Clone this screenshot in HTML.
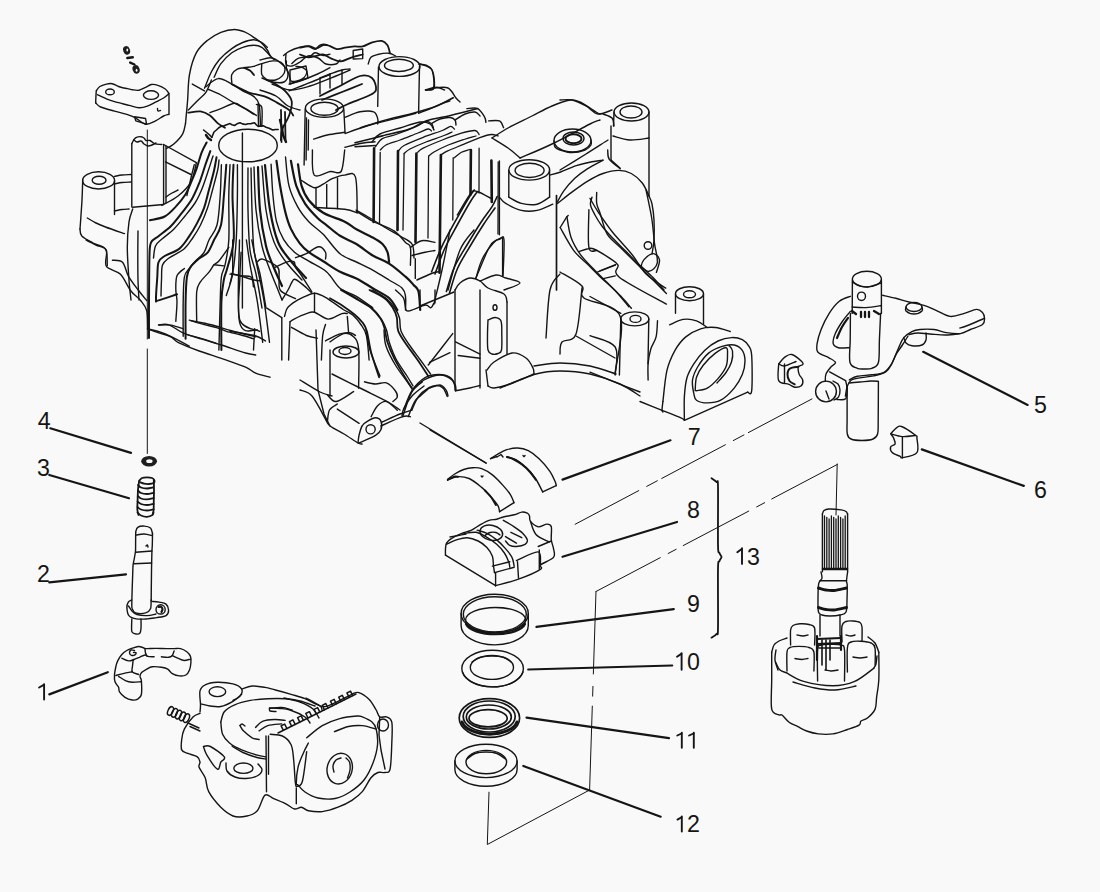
<!DOCTYPE html>
<html><head><meta charset="utf-8"><style>
html,body{margin:0;padding:0;background:#f9f9f9;width:1100px;height:892px;overflow:hidden}
svg{display:block}
.l path,.l ellipse,.l line,.l circle{fill:none;stroke:#151515;stroke-width:1.4;stroke-linecap:round;stroke-linejoin:round}
text{font-family:"Liberation Sans",sans-serif;font-size:23.2px;fill:#151515}
</style></head><body>
<svg width="1100" height="892" viewBox="0 0 1100 892">
<g class="l">
<!-- 01_labels.txt -->
<path d="M49.3 694.4 L107.8 672.2" style="stroke-width:2.2"/>
<path d="M49.3 582.4 L126 574.3" style="stroke-width:2.2"/>
<path d="M49.3 475 L129 498.3" style="stroke-width:2.2"/>
<path d="M50.3 428.3 L131 452.9" style="stroke-width:2.2"/>
<path d="M923.2 351.8 L1027.6 404.9" style="stroke-width:2.2"/>
<path d="M921.8 449.4 L1023.8 485.9" style="stroke-width:2.2"/>
<path d="M562.5 479.6 L670.5 440.3" style="stroke-width:2.2"/>
<path d="M562.5 556.8 L677 522" style="stroke-width:2.2"/>
<path d="M536.4 626.8 L673.8 609.2" style="stroke-width:2.2"/>
<path d="M528.2 669.5 L672.2 665.5" style="stroke-width:2.2"/>
<path d="M526.5 717.6 L669 738.2" style="stroke-width:2.2"/>
<path d="M523.3 766 L660.7 816.7" style="stroke-width:2.2"/>
<path d="M711.5 478.3 C712.3 478.9 715.4 480.6 716.5 482.0 C717.6 483.4 717.8 476.5 718.0 487.0 C718.2 497.5 717.8 534.0 718.0 545.0 C718.2 556.0 718.9 551.0 719.5 553.0 C720.1 555.0 721.5 555.7 721.5 557.0 C721.5 558.3 720.1 559.0 719.5 561.0 C718.9 563.0 718.2 557.8 718.0 569.0 C717.8 580.2 718.2 617.2 718.0 628.0 C717.8 638.8 717.6 632.4 716.5 634.0 C715.4 635.6 712.3 637.0 711.5 637.6" style="stroke-width:1.8"/>
<path d="M147.3 130 L147.3 339" style="stroke-width:1"/>
<path d="M147.3 349 L147.3 453.5" style="stroke-width:1"/>
<path d="M837.2 464 L836 515" style="stroke-width:1"/>
<path d="M589.6 790 L487.3 844.5 L489 792.2" style="stroke-width:1"/>
<path d="M596 591.5 L589.6 790" style="stroke-width:1;stroke-dasharray:82.5 12.4 9.8 10 120"/>
<path d="M837.2 464.5 L596 591.5" style="stroke-width:1;stroke-dasharray:74 8 9 9"/>
<path d="M812 398.9 L571.5 526.2" style="stroke-width:1;stroke-dasharray:72 5 12 9"/>
<!-- 01_labels_text.txt -->
<text x="37.1" y="582.0">2</text>
<text x="37.1" y="475.5">3</text>
<text x="37.7" y="428.6">4</text>
<text x="1034.0" y="413.0">5</text>
<text x="1034.0" y="497.5">6</text>
<text x="687.8" y="444.5">7</text>
<text x="687.0" y="517.5">8</text>
<text x="687.0" y="611.5">9</text>
<text x="687.0" y="669.7">0</text>
<text x="687.0" y="831.6">2</text>
<text x="747.0" y="564.5">3</text>
<path d="M39.1 687.5 L43.8 684.9" style="stroke-width:1.9"/>
<path d="M44.1 684.1 L44.1 699.5" style="stroke-width:1.9"/>
<path d="M677 656.8 L681.3 653.9" style="stroke-width:1.9"/>
<path d="M681.6 653.1 L681.6 669.7" style="stroke-width:1.9"/>
<path d="M677.3 735.5 L681.5 733.5" style="stroke-width:1.9"/>
<path d="M681.8 732.7 L681.8 747.7" style="stroke-width:1.9"/>
<path d="M689.1 735.5 L693.5 733.5" style="stroke-width:1.9"/>
<path d="M693.8 732.7 L693.8 747.7" style="stroke-width:1.9"/>
<path d="M677.5 819.6 L681.5 817.2" style="stroke-width:1.9"/>
<path d="M681.8 816.4 L681.8 831.6" style="stroke-width:1.9"/>
<path d="M737.3 552.3 L741.7 549" style="stroke-width:1.9"/>
<path d="M742 548.2 L742 563.9" style="stroke-width:1.9"/>
<!-- 02_lever.txt -->
<path d="M96.5 90.6 C97.0 89.9 98.1 87.6 99.8 86.5 C101.5 85.4 104.4 84.6 106.4 84.1 C108.5 83.6 110.1 83.3 112.1 83.7 C114.1 84.1 116.8 85.8 118.6 86.5 C120.4 87.2 121.2 87.5 122.7 87.8 C124.2 88.1 125.9 88.3 127.6 88.6 C129.2 88.9 130.7 89.5 132.6 89.8 C134.5 90.1 136.9 90.6 139.1 90.2 C141.3 89.8 143.5 88.4 145.6 87.4 C147.7 86.5 149.3 84.8 151.4 84.5 C153.5 84.2 155.6 84.5 157.9 85.3 C160.2 86.0 163.5 87.7 165.3 89.0 C167.1 90.3 168.1 92.4 168.6 93.1"/>
<path d="M96.3 90.6 C96.2 91.7 96.0 95.0 95.9 97.0 C95.8 99.0 95.7 101.9 95.7 102.9"/>
<path d="M95.7 102.9 C96.5 103.6 97.5 105.6 100.6 107.0 C103.7 108.4 110.1 109.9 114.5 111.1 C118.9 112.3 123.4 113.3 126.8 114.4 C130.2 115.5 131.9 116.0 135.0 117.6 C138.1 119.2 142.2 123.7 145.6 124.2 C149.0 124.8 152.5 122.3 155.5 120.9 C158.5 119.5 161.4 117.1 163.6 116.0 C165.8 114.9 167.8 114.7 168.6 114.4"/>
<path d="M169 93.5 L169 114.4"/>
<path d="M97.4 94.7 C98.9 95.4 103.7 97.7 106.4 98.8 C109.1 99.9 111.0 100.5 113.7 101.3 C116.4 102.1 120.1 103.0 122.7 103.7 C125.3 104.4 126.6 104.7 129.3 105.4 C132.0 106.1 136.1 107.7 139.1 107.8 C142.1 107.9 144.6 107.2 147.3 106.2 C150.0 105.2 152.8 103.5 155.5 102.1 C158.2 100.7 161.4 99.4 163.6 98.0 C165.8 96.6 167.8 94.6 168.6 93.9"/>
<ellipse cx="110" cy="91.9" rx="4.3" ry="2.9"/>
<ellipse cx="151" cy="95.1" rx="7.6" ry="4.3"/>
<path d="M134.6 116.8 L145.6 118.5 L146.5 124.2 L135.8 120.9Z"/>
<path d="M157.5 108.5 C157.6 108.9 157.5 110.7 158.0 111.0 C158.5 111.3 160.1 110.6 160.5 110.5"/>
<ellipse cx="126.6" cy="50.4" rx="3.4" ry="4.3" transform="rotate(-20 126.6 50.4)" style="fill:#1e1e1e;stroke:none"/>
<ellipse cx="136.1" cy="69.4" rx="3.5" ry="4.3" transform="rotate(-20 136.1 69.4)" style="fill:#1e1e1e;stroke:none"/>
<path d="M127.3 58 L132.8 57.3" style="stroke-width:2.4"/>
<path d="M130.2 62.6 L134.5 64.5" style="stroke-width:2.4"/>
<ellipse cx="127.3" cy="50" rx="0.9" ry="1.6" style="fill:#f9f9f9;stroke:none"/>
<ellipse cx="136.6" cy="70.3" rx="0.9" ry="1.5" style="fill:#f9f9f9;stroke:none"/>
<!-- 03_leftparts.txt -->
<ellipse cx="149.1" cy="461.3" rx="7.9" ry="5.3" style="fill:#1e1e1e;stroke:none"/>
<ellipse cx="149.4" cy="461.2" rx="3.2" ry="1.9" style="fill:#f9f9f9;stroke:none"/>
<path d="M139.0 482.0 C138.8 483.3 138.2 487.0 138.0 490.0 C137.8 493.0 137.7 496.7 137.6 500.0 C137.5 503.3 137.2 507.5 137.4 510.0 C137.6 512.5 138.3 514.2 138.5 515.0" style="stroke-width:1.8"/>
<path d="M153.8 480.0 C153.8 481.7 154.0 486.7 154.0 490.0 C154.0 493.3 153.9 496.7 153.8 500.0 C153.7 503.3 153.8 507.7 153.6 510.0 C153.4 512.3 152.9 513.3 152.8 514.0" style="stroke-width:1.8"/>
<path d="M139.0 481.0 C139.5 480.5 140.7 478.6 142.0 478.0 C143.3 477.4 145.3 477.3 147.0 477.3 C148.7 477.3 150.8 477.5 152.0 478.0 C153.2 478.5 154.2 479.7 154.5 480.5 C154.8 481.3 154.4 482.4 153.5 483.0 C152.6 483.6 150.6 483.9 149.0 484.0 C147.4 484.1 145.5 483.9 144.0 483.6 C142.5 483.3 140.7 482.4 140.0 482.2" style="stroke-width:1.8"/>
<path d="M138.0 485.0 C138.5 485.4 139.5 486.9 141.0 487.5 C142.5 488.1 145.0 488.5 147.0 488.5 C149.0 488.5 152.0 487.7 153.0 487.5" style="stroke-width:1.8"/>
<path d="M138.0 490.5 C138.5 490.9 139.5 492.4 141.0 493.0 C142.5 493.6 144.9 494.0 147.0 494.0 C149.1 494.0 152.5 493.0 153.6 492.8" style="stroke-width:1.8"/>
<path d="M137.8 496.0 C138.3 496.4 139.5 497.9 141.0 498.5 C142.5 499.1 144.9 499.4 147.0 499.4 C149.1 499.3 152.5 498.4 153.6 498.2" style="stroke-width:1.8"/>
<path d="M137.6 501.5 C138.2 501.9 139.4 503.4 141.0 504.0 C142.6 504.6 144.9 505.0 147.0 505.0 C149.1 505.0 152.5 504.0 153.6 503.8" style="stroke-width:1.8"/>
<path d="M137.5 507.0 C138.1 507.4 139.4 508.9 141.0 509.5 C142.6 510.1 144.9 510.5 147.0 510.5 C149.1 510.5 152.5 509.5 153.6 509.3" style="stroke-width:1.8"/>
<path d="M137.5 512.5 C138.1 513.0 139.4 514.8 141.0 515.5 C142.6 516.2 145.1 516.9 147.0 516.8 C148.9 516.7 151.4 515.7 152.5 515.0 C153.6 514.3 153.3 512.9 153.5 512.5" style="stroke-width:1.8"/>
<path d="M135.7 532.1 C136.0 531.3 136.2 528.4 137.7 527.4 C139.1 526.4 142.3 526.0 144.4 526.1 C146.5 526.2 149.2 526.9 150.5 528.1 C151.8 529.3 152.2 532.6 152.5 533.5"/>
<path d="M135.7 532.1 C135.7 534.2 135.6 541.7 135.6 545.0 C135.6 548.3 135.7 549.5 135.4 552.0 C135.1 554.5 134.4 557.7 134.0 560.0 C133.6 562.3 133.2 562.7 133.0 566.0 C132.8 569.3 132.7 575.2 132.5 580.0 C132.3 584.8 132.1 590.8 132.0 595.0 C131.9 599.2 131.8 602.7 131.8 605.0 C131.9 607.3 131.7 607.5 132.3 608.8 C133.0 610.1 133.4 612.2 135.7 612.9 C137.9 613.6 143.3 613.6 145.8 612.9 C148.3 612.2 149.6 610.9 150.5 608.8 C151.4 606.6 151.0 601.5 151.1 600.0"/>
<path d="M152.5 533.5 C152.5 535.4 152.4 541.9 152.3 545.0 C152.2 548.1 152.0 548.7 151.9 552.0 C151.8 555.3 151.7 560.3 151.6 565.0 C151.5 569.7 151.5 574.0 151.4 580.0 C151.3 586.0 151.2 597.3 151.2 600.8"/>
<path d="M136.5 535.0 C137.8 534.8 141.4 533.9 144.0 534.0 C146.6 534.1 150.7 535.2 152.0 535.5"/>
<path d="M135.6 552.3 L151.9 551"/>
<path d="M133.8 563.7 L151.6 563"/>
<path d="M146.0 546.0 C146.2 545.8 147.2 544.8 147.5 545.0 C147.8 545.2 147.9 546.7 148.0 547.0"/>
<path d="M131.6 600.0 C131.1 600.4 129.1 600.9 128.3 602.1 C127.5 603.4 126.8 605.2 126.9 607.5 C127.0 609.8 127.3 613.7 128.9 615.6 C130.5 617.5 133.3 618.4 136.3 618.9 C139.3 619.4 143.7 619.1 147.1 618.9 C150.5 618.7 153.3 618.1 156.5 617.6 C159.7 617.1 164.0 616.8 166.0 615.6 C168.0 614.4 168.6 612.1 168.6 610.2 C168.6 608.3 167.6 605.5 166.0 604.1 C164.4 602.8 161.6 602.6 159.2 602.1 C156.8 601.6 153.0 601.5 151.8 601.4"/>
<path d="M128.5 606.0 C129.1 606.8 130.6 609.6 132.0 611.0 C133.4 612.4 134.5 613.7 137.0 614.5 C139.5 615.3 143.8 615.7 147.0 615.6 C150.2 615.5 154.5 614.3 156.0 614.0"/>
<ellipse cx="160.6" cy="609.4" rx="4.6" ry="4.6"/>
<path d="M158.5 607.0 C158.9 607.0 160.1 606.5 160.8 606.8 C161.5 607.1 162.4 608.1 162.5 609.0 C162.6 609.9 161.7 611.5 161.5 612.0" style="stroke-width:2.2"/>
<path d="M131.8 619.0 C131.8 620.2 131.6 623.8 131.6 626.0 C131.6 628.2 131.3 630.7 132.0 632.0 C132.7 633.3 134.7 633.8 136.0 634.0 C137.3 634.2 139.2 634.0 140.0 633.0 C140.8 632.0 140.8 630.3 141.0 628.0 C141.2 625.7 141.0 620.5 141.0 619.0"/>
<path d="M121.8 654.5 C123.3 652.8 125.0 651.5 126.8 650.5 C128.6 649.5 130.3 648.9 132.3 648.2 C134.3 647.5 136.8 646.6 138.6 646.5 C140.4 646.4 142.0 647.4 143.2 647.7 C144.4 648.1 143.8 648.5 145.9 648.6 C148.0 648.7 152.4 648.4 155.9 648.4 C159.4 648.4 163.8 648.6 166.8 648.6 C169.8 648.6 171.8 648.6 174.1 648.6 C176.4 648.6 178.4 648.1 180.5 648.6 C182.6 649.1 185.1 650.5 186.8 651.8 C188.5 653.1 189.8 654.6 190.5 656.4 C191.2 658.2 191.1 660.4 190.9 662.7 C190.7 665.0 190.3 668.0 189.5 670.0 C188.7 672.0 187.6 674.0 185.9 675.0 C184.2 676.0 181.8 676.1 179.5 675.9 C177.2 675.7 174.3 674.7 172.3 673.6 C170.3 672.5 169.5 670.2 167.7 669.1 C165.9 668.0 164.0 667.7 161.4 667.3 C158.8 666.9 154.7 666.5 152.3 666.8 C149.9 667.1 148.6 668.1 146.8 669.1 C145.0 670.1 142.5 671.5 141.4 672.7 C140.3 673.9 140.0 675.0 140.0 676.4 C140.0 677.8 141.2 677.9 141.4 680.9 C141.6 683.9 142.0 691.5 141.4 694.5 C140.8 697.5 139.2 698.2 137.7 699.1 C136.2 700.0 134.4 700.3 132.3 700.0 C130.2 699.7 127.1 698.7 125.0 697.3 C122.9 695.9 120.6 693.5 119.5 691.8 C118.4 690.1 119.3 689.0 118.6 687.3 C117.8 685.6 115.7 683.9 115.0 681.8 C114.3 679.7 114.3 677.1 114.5 674.5 C114.7 671.9 115.4 668.7 115.9 666.4 C116.4 664.1 116.7 662.9 117.7 660.9 C118.7 658.9 120.3 656.2 121.8 654.5Z"/>
<path d="M121.8 658.2 C122.9 658.7 126.5 660.7 128.6 660.9 C130.7 661.1 132.3 660.1 134.1 659.5 C135.9 658.9 137.7 658.0 139.5 657.3 C141.3 656.5 143.6 655.1 145.0 655.0 C146.4 654.9 146.2 656.1 147.7 656.4 C149.2 656.7 153.0 656.7 154.1 656.8"/>
<path d="M161.4 656.8 C162.6 656.9 166.8 657.5 168.6 657.3 C170.4 657.1 171.4 656.6 172.3 655.5 C173.2 654.4 173.8 651.7 174.1 650.9"/>
<path d="M172.3 655.5 C173.2 656.0 175.7 657.4 177.7 658.2 C179.7 659.0 182.0 660.4 184.1 660.5 C186.2 660.6 189.4 659.3 190.5 659.1"/>
<path d="M133.2 659.5 C133.1 660.6 132.7 664.0 132.5 666.0 C132.3 668.0 131.3 670.4 132.3 671.8 C133.3 673.2 137.6 674.0 138.6 674.5"/>
<path d="M115.9 675.5 C117.1 675.2 120.5 674.2 123.2 673.6 C125.9 673.0 130.8 672.1 132.3 671.8"/>
<path d="M118.6 676.4 C119.8 677.1 123.6 679.9 125.9 680.9 C128.2 681.9 129.9 682.1 132.3 682.3 C134.7 682.4 139.1 681.9 140.5 681.8"/>
<path d="M134.5 650.5 C133.9 650.4 131.8 649.6 131.0 650.0 C130.2 650.4 129.4 652.1 129.5 653.0 C129.6 653.9 130.6 655.0 131.5 655.3 C132.4 655.6 134.2 655.3 135.0 654.8 C135.8 654.3 136.2 652.9 136.0 652.5 C135.8 652.1 133.9 652.5 133.5 652.5"/>
<path d="M145.0 649.0 C145.1 649.7 145.2 651.8 145.5 653.0 C145.8 654.2 146.8 655.5 147.0 656.0"/>
<!-- 04_pump.txt -->
<path d="M200.0 712.0 C200.1 710.8 200.5 708.3 200.5 704.8 C200.5 701.3 199.2 694.2 200.0 690.9 C200.8 687.6 202.3 686.2 205.2 684.8 C208.1 683.3 212.8 682.4 217.4 682.2 C222.0 682.1 228.9 682.8 233.0 683.9 C237.1 685.0 240.5 687.1 241.7 689.1 C242.9 691.1 241.4 694.2 240.0 696.1 C238.6 698.0 234.2 699.7 233.0 700.4"/>
<path d="M200.8 703.9 C202.3 704.2 206.7 705.6 210.0 706.0 C213.3 706.4 217.0 707.3 220.8 706.5 C224.6 705.7 229.5 703.3 233.0 701.3 C236.5 699.3 240.2 695.5 241.7 694.3"/>
<ellipse cx="217.4" cy="691.7" rx="8.3" ry="4.9"/>
<path d="M241.7 689.1 C243.4 688.6 248.1 686.3 252.0 686.0 C255.9 685.7 261.1 686.7 265.0 687.4 C268.9 688.1 271.0 688.9 275.4 690.0 C279.8 691.1 286.2 692.8 291.1 694.3 C296.0 695.8 300.7 697.0 305.0 698.7 C309.3 700.4 313.6 703.4 317.1 704.7 C320.6 706.0 322.3 707.1 325.8 706.5 C329.3 705.9 333.6 703.3 338.0 701.3 C342.4 699.3 348.4 695.8 351.9 694.3 C355.4 692.8 355.9 691.7 358.8 692.6 C361.7 693.5 366.3 696.6 369.2 699.5 C372.1 702.4 374.4 707.1 376.2 710.0 C377.9 712.9 378.0 715.8 379.7 716.9 C381.4 718.0 384.6 716.0 386.6 716.9 C388.6 717.8 390.9 717.8 391.8 722.1 C392.7 726.5 392.1 735.2 391.8 743.0 C391.5 750.8 391.2 764.1 390.1 769.0 C389.0 773.9 386.9 771.9 384.9 772.5 C382.9 773.1 380.2 771.6 377.9 772.5 C375.6 773.4 373.6 774.5 371.0 777.7 C368.4 780.9 365.5 787.8 362.3 791.6 C359.1 795.4 355.9 797.7 351.9 800.3 C347.8 802.9 342.9 805.3 338.0 807.2 C333.1 809.1 327.2 811.0 322.3 811.6 C317.4 812.2 311.9 811.4 308.4 810.7 C304.9 810.0 303.8 807.5 301.5 807.2 C299.2 806.9 297.1 809.6 294.5 809.0 C291.9 808.4 289.3 805.5 285.8 803.8 C282.3 802.1 277.2 800.0 273.7 798.6 C270.2 797.2 267.7 793.1 265.0 795.1 C262.3 797.1 260.3 807.3 257.3 810.8 C254.3 814.3 251.0 815.1 246.9 816.0 C242.8 816.9 237.3 817.5 233.0 816.0 C228.7 814.5 224.9 811.3 220.8 807.3 C216.8 803.2 211.3 796.6 208.7 791.7 C206.1 786.8 206.8 781.9 205.2 777.8 C203.6 773.7 200.0 769.9 199.1 767.3 C198.2 764.7 200.3 763.8 200.0 762.1 C199.7 760.4 199.4 758.4 197.4 756.9 C195.4 755.4 190.4 754.6 187.8 753.4 C185.2 752.2 182.7 752.2 181.7 749.9 C180.7 747.6 181.3 743.0 181.7 739.5 C182.1 736.0 182.4 732.9 184.3 729.1 C186.2 725.3 190.4 719.5 193.0 716.9 C195.6 714.3 198.8 714.0 200.0 713.4"/>
<path d="M220.8 722.1 C221.4 720.4 222.0 714.6 224.3 711.7 C226.6 708.8 230.3 706.7 234.7 704.8 C239.0 702.9 244.9 701.4 250.4 700.4 C255.9 699.4 262.0 699.0 267.8 698.7 C273.6 698.4 279.7 698.3 285.1 698.7 C290.5 699.1 295.0 699.8 300.0 701.0 C305.0 702.2 312.5 705.2 315.0 706.0"/>
<path d="M220.8 722.1 C221.1 724.1 221.2 730.8 222.6 734.3 C224.0 737.8 226.3 740.4 229.5 743.0 C232.7 745.6 237.1 747.9 241.7 749.9 C246.3 751.9 253.2 754.0 257.3 755.2 C261.4 756.4 264.6 756.6 266.0 756.9"/>
<path d="M232.0 746.0 C233.8 747.1 238.8 750.6 243.0 752.5 C247.2 754.4 253.2 756.4 257.0 757.5 C260.8 758.6 264.5 758.8 266.0 759.0"/>
<path d="M240.0 725.6 C240.6 726.5 241.4 728.8 243.4 730.8 C245.4 732.8 249.5 736.3 252.1 737.8 C254.7 739.2 257.9 739.2 259.1 739.5"/>
<path d="M240.0 725.6 C240.3 725.3 241.2 723.9 242.0 724.0 C242.8 724.1 244.5 725.7 245.0 726.0"/>
<path d="M255.6 727.4 C256.8 726.4 259.3 722.6 262.5 721.3 C265.7 720.0 270.9 719.6 274.7 719.5 C278.5 719.4 283.4 720.2 285.1 720.4"/>
<path d="M259.1 730.8 C260.6 729.9 264.0 726.8 267.8 725.6 C271.6 724.5 279.4 724.2 281.7 723.9"/>
<path d="M269.5 708.2 C271.5 708.1 277.9 707.1 281.7 707.4 C285.4 707.7 290.3 709.6 292.0 710.0"/>
<path d="M269.5 708.2 C269.6 708.7 268.9 710.5 270.0 711.0 C271.1 711.5 275.0 711.4 276.0 711.5"/>
<ellipse cx="243.4" cy="768.2" rx="9.6" ry="5.2"/>
<path d="M226.0 763.0 C226.2 764.3 225.5 768.7 227.0 771.0 C228.5 773.3 231.8 775.8 235.0 777.0 C238.2 778.2 242.3 778.7 246.0 778.5 C249.7 778.3 254.3 777.4 257.0 776.0 C259.7 774.6 261.8 772.0 262.0 770.0 C262.2 768.0 258.7 765.0 258.0 764.0"/>
<path d="M203.4 746.5 C204.0 748.0 204.6 751.4 206.9 755.2 C209.2 759.0 215.1 768.0 217.4 769.1 C219.7 770.2 219.7 764.1 220.8 762.1 C222.0 760.1 226.0 759.5 224.3 756.9 C222.6 754.3 213.9 748.2 210.4 746.5 C206.9 744.8 204.6 746.5 203.4 746.5"/>
<path d="M266 736 L266.5 791.7"/>
<ellipse cx="170.5" cy="711" rx="2.5" ry="4.6" transform="rotate(25 170.5 711)" style="stroke-width:1.5"/>
<ellipse cx="174.5" cy="712.8" rx="2.5" ry="4.6" transform="rotate(25 174.5 712.8)" style="stroke-width:1.5"/>
<ellipse cx="178.5" cy="714.6" rx="2.5" ry="4.6" transform="rotate(25 178.5 714.6)" style="stroke-width:1.5"/>
<ellipse cx="182.5" cy="716.4" rx="2.5" ry="4.6" transform="rotate(25 182.5 716.4)" style="stroke-width:1.5"/>
<ellipse cx="186.5" cy="718.2" rx="2.5" ry="4.6" transform="rotate(25 186.5 718.2)" style="stroke-width:1.5"/>
<path d="M188 723 L199 728"/>
<path d="M190 726.5 L200 731"/>
<path d="M306.7 737.8 C309.3 735.8 316.8 728.8 322.3 725.6 C327.8 722.4 333.9 720.2 339.7 718.6 C345.5 717.0 353.3 716.3 357.1 716.0 C360.9 715.7 359.8 715.9 362.3 716.9 C364.8 717.9 369.7 720.0 372.0 722.0 C374.3 724.0 375.3 725.2 376.2 729.0 C377.1 732.8 378.0 739.3 377.5 745.0 C377.0 750.7 375.2 757.2 373.0 763.0 C370.8 768.8 367.8 775.2 364.0 780.0 C360.2 784.8 354.8 788.9 350.0 792.0 C345.2 795.1 340.3 797.5 335.0 798.5 C329.7 799.5 323.0 799.1 318.0 798.0 C313.0 796.9 308.3 794.2 305.0 792.0 C301.7 789.8 299.4 786.5 298.0 785.0 C296.6 783.5 296.3 785.9 296.3 782.9 C296.3 779.9 296.9 772.2 298.0 767.3 C299.1 762.4 301.5 757.4 303.2 753.4 C304.9 749.4 307.5 744.7 308.4 743.0"/>
<path d="M334.5 731.7 C336.8 730.8 343.8 727.5 348.4 726.5 C353.0 725.5 357.7 725.2 362.3 725.6 C366.9 726.0 373.9 728.5 376.2 729.1"/>
<path d="M270.2 734.3 C272.2 734.6 278.9 734.3 282.4 736.0 C285.9 737.7 289.2 740.7 291.1 744.7 C293.0 748.8 293.0 753.9 293.7 760.3 C294.4 766.7 294.8 778.5 295.4 782.9 C296.0 787.2 295.9 786.7 297.1 786.4 C298.3 786.1 300.8 787.0 302.4 781.2 C304.0 775.4 306.0 756.6 306.7 751.7"/>
<path d="M268.5 736 L268.5 774.2"/>
<path d="M296.3 788 L296.3 803.8"/>
<ellipse cx="339.7" cy="768.6" rx="12.5" ry="15.5" transform="rotate(15 339.7 768.6)"/>
<path d="M346.0 758.0 C346.6 758.7 348.8 760.0 349.5 762.0 C350.2 764.0 350.3 767.3 350.0 770.0 C349.7 772.7 347.9 776.7 347.5 778.0"/>
<path d="M334.0 772.0 C333.8 771.0 332.7 768.0 333.0 766.0 C333.3 764.0 334.7 761.3 336.0 760.0 C337.3 758.7 340.2 758.3 341.0 758.0"/>
<ellipse cx="383" cy="725" rx="5.5" ry="6"/>
<path d="M379.7 716.9 L379 735 L381 750 L385 769"/>
<path d="M283.4 730.3 L281.1 725.8 L284.7 724.1 L286.9 728.5" style="stroke-width:1.5"/>
<path d="M291.6 726.2 L289.4 721.7 L292.9 719.9 L295.2 724.4" style="stroke-width:1.5"/>
<path d="M299.8 722.1 L297.6 717.6 L301.2 715.8 L303.4 720.3" style="stroke-width:1.5"/>
<path d="M308 718 L305.8 713.5 L309.4 711.7 L311.6 716.2" style="stroke-width:1.5"/>
<path d="M316.3 713.9 L314 709.4 L317.6 707.6 L319.8 712.1" style="stroke-width:1.5"/>
<path d="M324.5 709.8 L322.3 705.3 L325.8 703.5 L328.1 708" style="stroke-width:1.5"/>
<path d="M332.7 705.6 L330.5 701.2 L334.1 699.4 L336.3 703.9" style="stroke-width:1.5"/>
<path d="M340.9 701.5 L338.7 697.1 L342.3 695.3 L344.5 699.7" style="stroke-width:1.5"/>
<path d="M349.2 697.4 L346.9 692.9 L350.5 691.2 L352.7 695.6" style="stroke-width:1.5"/>
<path d="M278 733 L356 694" style="stroke-width:1.5"/>
<path d="M270.0 708.0 C271.7 708.1 276.7 708.2 280.0 708.5 C283.3 708.8 285.8 708.6 290.0 710.0 C294.2 711.4 301.7 714.8 305.0 717.0 C308.3 719.2 309.2 722.0 310.0 723.0"/>
<path d="M284.0 698.0 C286.7 698.7 295.2 700.2 300.0 702.0 C304.8 703.8 309.8 706.3 313.0 709.0 C316.2 711.7 318.0 716.5 319.0 718.0"/>
<path d="M306.0 698.0 C308.3 699.3 317.3 704.0 320.0 706.0 C322.7 708.0 321.7 709.3 322.0 710.0"/>
<!-- 05_bearings.txt -->
<path d="M447.6 479.4 C448.8 478.5 452.0 475.6 454.7 474.0 C457.4 472.4 460.7 470.6 463.7 469.5 C466.7 468.4 469.7 467.8 472.7 467.7 C475.7 467.6 478.4 467.4 481.7 468.6 C485.0 469.8 488.8 472.1 492.4 474.9 C496.0 477.7 500.2 482.3 503.2 485.6 C506.2 488.9 508.6 491.8 510.4 494.6 C512.2 497.5 513.4 501.4 514.0 502.7"/>
<path d="M447.6 480.3 C449.1 479.7 452.9 477.0 456.5 476.7 C460.1 476.4 464.9 476.7 469.1 478.5 C473.3 480.3 478.1 484.4 481.7 487.4 C485.3 490.4 487.9 493.4 490.6 496.4 C493.3 499.4 496.3 502.8 497.8 505.4 C499.3 507.9 499.3 510.6 499.6 511.7"/>
<path d="M514 502.7 L499.6 511.7"/>
<path d="M447.6 479.4 L447.6 480.3"/>
<path d="M485.0 490.5 C486.0 491.6 489.2 494.6 491.0 497.0 C492.8 499.4 495.2 503.7 496.0 505.0" style="stroke-width:2"/>
<path d="M450.0 478.5 C450.8 478.2 453.7 476.8 455.0 476.5 C456.3 476.2 457.5 476.8 458.0 476.8" style="stroke-width:2"/>
<path d="M481.2 476.0 C481.3 476.2 481.7 477.0 482.0 477.0 C482.3 477.0 482.8 476.2 483.0 476.0"/>
<path d="M490.6 458.7 C491.8 457.9 495.1 455.7 497.8 454.2 C500.5 452.7 503.5 450.7 506.8 449.7 C510.1 448.7 514.0 447.9 517.6 448.0 C521.2 448.1 524.7 448.8 528.3 450.6 C531.9 452.4 535.5 455.2 539.1 458.7 C542.7 462.1 547.2 467.4 549.9 471.3 C552.6 475.2 554.2 479.6 555.3 482.0 C556.3 484.4 556.1 485.0 556.2 485.6"/>
<path d="M506.8 456.9 C508.3 457.3 512.5 457.8 515.8 459.6 C519.1 461.4 523.2 464.6 526.5 467.7 C529.8 470.8 532.8 474.5 535.5 478.5 C538.2 482.5 541.5 489.7 542.7 491.9"/>
<path d="M556.2 485.6 L542.7 491.9"/>
<path d="M490.6 458.7 L494 457.5 L497 456.5"/>
<path d="M507.0 457.0 C508.2 457.4 511.5 458.2 514.0 459.5 C516.5 460.8 519.3 462.4 522.0 464.5 C524.7 466.6 527.7 469.4 530.0 472.0 C532.3 474.6 535.0 478.7 536.0 480.0" style="stroke-width:2"/>
<path d="M523.0 455.5 C523.2 455.7 523.7 456.7 524.0 456.7 C524.3 456.7 524.8 455.7 525.0 455.5"/>
<path d="M497 457 L501 454.5 L503 457"/>
<path d="M430 429.8 L486.2 463.2"/>
<path d="M445.5 555.2 C445.5 554.2 445.3 551.0 445.5 549.0 C445.7 547.0 445.6 544.9 446.5 543.2 C447.4 541.5 448.3 540.4 450.9 538.8 C453.4 537.2 458.4 534.8 461.8 533.4 C465.2 532.0 468.5 531.6 471.6 530.1 C474.7 528.6 477.5 526.2 480.4 524.6 C483.3 523.0 486.4 521.2 489.1 520.3 C491.8 519.4 494.3 519.8 496.7 519.2 C499.1 518.7 500.4 517.7 503.3 517.0 C506.2 516.3 511.1 515.6 514.2 514.8 C517.3 514.0 519.6 512.4 521.8 512.1 C524.0 511.8 526.0 512.6 527.3 513.2 C528.6 513.8 529.0 514.5 529.5 515.9 C530.0 517.3 529.0 519.6 530.5 521.4 C532.0 523.2 535.5 526.3 538.2 526.8 C540.9 527.2 544.7 524.1 546.9 524.1 C549.1 524.1 550.6 524.2 551.3 526.8 C552.0 529.4 550.9 536.3 551.3 539.9 C551.7 543.5 553.1 545.7 553.5 548.6 C553.9 551.5 555.7 554.7 553.5 557.4 C551.3 560.1 542.6 563.0 540.4 565.0 C538.2 567.0 544.0 567.0 540.4 569.4 C536.8 571.8 526.0 576.5 518.5 579.2 C511.0 581.9 499.4 584.6 495.6 585.7"/>
<path d="M495.6 585.7 L445.5 555.2"/>
<path d="M446.5 544.3 C448.1 543.6 452.9 541.0 456.4 539.9 C459.9 538.8 463.7 537.5 467.3 537.7 C470.9 537.9 474.9 539.4 478.2 541.0 C481.5 542.6 484.5 545.0 486.9 547.5 C489.3 550.0 491.3 553.2 492.4 556.3 C493.5 559.4 493.1 563.4 493.5 566.1 C493.9 568.8 494.3 571.5 494.5 572.6"/>
<path d="M464.0 533.4 C466.0 533.2 472.4 531.8 476.0 532.3 C479.6 532.8 482.4 534.6 485.8 536.6 C489.2 538.6 493.6 541.6 496.7 544.3 C499.8 547.0 502.4 550.1 504.4 553.0 C506.4 555.9 507.8 559.3 508.7 561.7 C509.6 564.1 509.6 566.3 509.8 567.2"/>
<path d="M477.1 530.1 C478.7 530.6 483.6 531.8 486.9 533.4 C490.2 535.0 493.6 537.4 496.7 539.9 C499.8 542.4 502.9 545.7 505.5 548.6 C508.1 551.5 510.6 554.5 512.0 557.4 C513.5 560.3 513.8 564.6 514.2 566.1"/>
<path d="M450.0 537.0 C451.3 536.8 455.3 536.0 458.0 535.5 C460.7 535.0 464.7 534.2 466.0 534.0"/>
<path d="M495.6 572.6 L495.6 585.7"/>
<path d="M492.4 566.1 L509.8 561.7"/>
<path d="M494.5 572.6 L514.2 567.2"/>
<ellipse cx="491.3" cy="532.8" rx="11.5" ry="7.5" transform="rotate(12 491.3 532.8)"/>
<path d="M485.0 535.5 C485.8 535.0 488.2 533.0 490.0 532.5 C491.8 532.0 494.3 532.1 496.0 532.5 C497.7 532.9 499.3 534.6 500.0 535.0"/>
<path d="M503.3 520.3 C505.1 521.4 510.9 524.6 514.2 526.8 C517.5 529.0 520.7 531.2 522.9 533.4 C525.1 535.6 526.9 538.1 527.3 539.9 C527.7 541.7 526.9 543.2 525.1 544.3 C523.3 545.4 518.9 546.3 516.4 546.5 C513.9 546.7 511.6 546.3 509.8 545.4 C508.0 544.5 506.2 541.7 505.5 541.0"/>
<path d="M516.4 560.6 C520.0 559.1 534.2 551.2 538.2 551.9 C542.2 552.6 540.0 562.8 540.4 565.0"/>
<path d="M517.5 561.7 L518.5 578.1"/>
<path d="M538.2 546.5 L551.3 541"/>
<path d="M539.3 550 L539.3 569"/>
<path d="M530.5 521.4 C531.4 523.6 532.9 531.0 536.0 534.5 C539.1 538.0 546.9 540.8 549.1 542.1"/>
<path d="M505.5 536.6 L516.4 543.2"/>
<path d="M510.9 532.3 L521.8 537.7"/>
<!-- 06_rings.txt -->
<ellipse cx="494.7" cy="613.6" rx="33.6" ry="19.4"/>
<ellipse cx="494.8" cy="614.3" rx="31.5" ry="17.6"/>
<ellipse cx="495.6" cy="620" rx="30" ry="12.5"/>
<path d="M461.1 613.6 L461.1 625.5 A33.6 19.4 0 0 0 528.3 625.5 L528.3 613.6"/>
<path d="M466 624 A30 12.5 0 0 0 525 624" style="stroke-width:2.2"/>
<ellipse cx="492.6" cy="668.6" rx="30.8" ry="18.3"/>
<ellipse cx="491.9" cy="667.4" rx="21.6" ry="12"/>
<path d="M462.5 672 A30.8 18.3 0 0 0 523 672" />
<path d="M472.0 662.0 C473.3 661.2 476.7 658.5 480.0 657.5 C483.3 656.5 488.0 656.0 492.0 656.0 C496.0 656.0 500.8 656.5 504.0 657.5 C507.2 658.5 509.8 661.2 511.0 662.0"/>
<ellipse cx="489.4" cy="718" rx="30.2" ry="19.4" style="stroke-width:1.7"/>
<ellipse cx="489.2" cy="716.5" rx="26" ry="15.5" style="stroke-width:1.7"/>
<ellipse cx="488.8" cy="717" rx="22.5" ry="12" style="stroke-width:1.7"/>
<ellipse cx="488.1" cy="718.3" rx="19.1" ry="8.6" style="stroke-width:1.7"/>
<path d="M462 722 A28 15 0 0 0 517 722" style="stroke-width:3"/>
<ellipse cx="486" cy="760.9" rx="31.1" ry="16.7"/>
<path d="M454.9 760.9 L454.9 769.5 A31.1 16.7 0 0 0 517.1 769.5 L517.1 760.9"/>
<ellipse cx="486.3" cy="762.1" rx="20.3" ry="11.7"/>
<path d="M467.0 759.0 C468.3 758.1 471.8 754.7 475.0 753.5 C478.2 752.3 482.3 752.0 486.0 752.0 C489.7 752.0 493.8 752.3 497.0 753.5 C500.2 754.7 504.1 758.1 505.5 759.0"/>
<!-- 07_cyl.txt -->
<path d="M822.4 514.0 C822.7 513.4 823.0 511.3 824.0 510.5 C825.0 509.7 825.8 509.1 828.7 509.0 C831.6 508.9 838.4 509.5 841.3 509.9 C844.2 510.3 845.0 510.8 846.0 511.5 C847.0 512.2 847.3 513.6 847.6 514.0"/>
<path d="M822.4 514 L822.4 571.8"/>
<path d="M847.6 514 L847.6 571.8"/>
<path d="M824.5 516 L824.5 569" style="stroke-width:1.3"/>
<path d="M826.8 517.5 L826.8 569" style="stroke-width:1.3"/>
<path d="M829.1 519 L829.1 569" style="stroke-width:1.3"/>
<path d="M831.4 516 L831.4 569" style="stroke-width:1.3"/>
<path d="M833.7 517.5 L833.7 569" style="stroke-width:1.3"/>
<path d="M836 519 L836 569" style="stroke-width:1.3"/>
<path d="M838.3 516 L838.3 569" style="stroke-width:1.3"/>
<path d="M840.6 517.5 L840.6 569" style="stroke-width:1.3"/>
<path d="M842.9 519 L842.9 569" style="stroke-width:1.3"/>
<path d="M845.2 516 L845.2 569" style="stroke-width:1.3"/>
<path d="M823 569 L847 569" style="stroke-width:2.5"/>
<path d="M821.0 572.0 C821.2 573.0 822.2 576.5 822.0 578.0 C821.8 579.5 820.6 579.8 820.0 581.0 C819.4 582.2 818.8 581.8 818.5 585.0 C818.2 588.2 818.0 595.5 818.0 600.0 C818.0 604.5 817.8 609.5 818.5 612.0 C819.2 614.5 820.1 614.3 822.0 615.0 C823.9 615.7 827.0 616.0 830.0 616.0 C833.0 616.0 837.3 615.7 840.0 615.0 C842.7 614.3 844.8 614.5 846.0 612.0 C847.2 609.5 846.8 604.5 847.0 600.0 C847.2 595.5 847.3 588.2 847.2 585.0 C847.1 581.8 846.4 583.2 846.5 581.0 C846.6 578.8 847.4 573.5 847.6 572.0"/>
<path d="M820 580.8 L846.5 580.8"/>
<path d="M818.5 588.0 C819.8 588.3 823.4 589.6 826.0 590.0 C828.6 590.4 830.6 590.8 834.0 590.5 C837.4 590.2 844.4 588.4 846.5 588.0" style="stroke-width:3"/>
<path d="M818.5 607.5 C819.8 607.8 823.4 609.1 826.0 609.5 C828.6 609.9 830.6 610.3 834.0 610.0 C837.4 609.7 844.4 607.9 846.5 607.5" style="stroke-width:3"/>
<path d="M820 615 L820 636"/>
<path d="M840 615 L840 636"/>
<path d="M817 636 L817 660" style="stroke-width:2.2"/>
<path d="M841 636 L841 650" style="stroke-width:2.2"/>
<path d="M817 639 L841 638" style="stroke-width:2.2"/>
<path d="M817 644 L841 643" style="stroke-width:2.2"/>
<path d="M819 648 L840 648" style="stroke-width:1.6"/>
<path d="M822 640 L822 665" style="stroke-width:1.6"/>
<path d="M826 640 L826 670" style="stroke-width:1.6"/>
<path d="M830 640 L830 660" style="stroke-width:1.6"/>
<path d="M771.7 652.3 C771.7 656.9 771.7 670.5 771.7 680.0 C771.7 689.5 770.5 703.3 771.7 709.1 C772.9 714.9 777.2 713.9 778.9 714.9 C780.6 715.9 780.3 713.8 782.0 715.0 C783.7 716.2 786.5 720.3 789.1 722.2 C791.8 724.1 795.0 725.1 797.9 726.6 C800.8 728.1 803.2 729.8 806.6 731.0 C810.0 732.2 813.9 733.4 818.3 733.9 C822.7 734.4 828.0 734.6 832.9 733.9 C837.8 733.2 843.0 731.0 847.4 729.5 C851.8 728.0 856.8 726.5 859.1 725.1 C861.4 723.7 859.5 722.2 861.0 721.0 C862.5 719.8 865.4 719.8 867.8 717.8 C870.1 715.8 873.6 712.5 875.1 709.1 C876.6 705.7 876.0 702.2 876.6 697.4 C877.2 692.5 878.4 687.5 878.8 680.0 C879.2 672.5 878.8 656.9 878.8 652.3"/>
<path d="M771.7 652.3 C772.1 651.1 772.8 646.9 774.0 645.0 C775.2 643.1 776.8 642.2 779.0 641.0 C781.2 639.8 785.7 638.5 787.0 638.0"/>
<path d="M868.0 637.0 C869.2 638.0 873.2 640.5 875.0 643.0 C876.8 645.5 878.2 650.8 878.8 652.3"/>
<path d="M776.0 650.0 C775.8 651.7 774.7 656.7 775.0 660.0 C775.3 663.3 777.5 668.3 778.0 670.0"/>
<path d="M786.2 672.7 C789.1 674.2 795.9 679.2 803.7 681.4 C811.5 683.6 824.4 685.8 832.9 685.8 C841.4 685.8 847.9 684.3 854.7 681.4 C861.5 678.5 870.5 670.5 873.7 668.3"/>
<path d="M775.5 662.0 C776.2 663.3 778.2 668.2 780.0 670.0 C781.8 671.8 785.2 672.2 786.2 672.7"/>
<path d="M873.7 668.3 C874.1 667.6 875.5 666.0 876.0 664.0 C876.5 662.0 876.8 657.3 877.0 656.0"/>
<path d="M793.0 682.0 C796.7 683.0 808.0 686.7 815.0 688.0 C822.0 689.3 828.2 690.3 835.0 690.0 C841.8 689.7 852.5 686.7 856.0 686.0"/>
<path d="M790.6 645.0 C790.6 642.5 790.2 633.2 790.6 630.0 C791.0 626.8 791.4 626.5 793.0 625.5 C794.6 624.5 797.3 624.0 800.0 623.8 C802.7 623.6 806.6 623.8 809.0 624.5 C811.4 625.2 813.7 624.6 814.6 628.0 C815.5 631.4 814.6 642.2 814.6 645.0"/>
<path d="M797.0 635.0 C798.0 635.2 801.2 636.0 803.0 636.0 C804.8 636.0 807.2 635.2 808.0 635.0"/>
<path d="M787.0 671.0 C787.0 667.8 786.5 655.9 787.0 652.0 C787.5 648.1 788.0 648.4 790.0 647.5 C792.0 646.6 795.8 646.4 799.0 646.4 C802.2 646.4 806.5 646.6 809.0 647.5 C811.5 648.4 813.1 648.1 813.9 652.0 C814.7 655.9 813.9 667.8 813.9 671.0"/>
<path d="M795.0 658.5 C796.2 658.7 799.8 659.5 802.0 659.5 C804.2 659.5 807.0 658.7 808.0 658.5"/>
<path d="M817.6 681.0 C817.6 675.8 817.0 656.0 817.6 650.0 C818.2 644.0 818.8 646.0 821.0 645.0 C823.2 644.0 827.7 644.2 831.0 644.2 C834.3 644.2 838.8 644.0 841.0 645.0 C843.2 646.0 843.9 644.0 844.5 650.0 C845.1 656.0 844.5 675.8 844.5 681.0"/>
<path d="M825.0 670.0 C826.0 670.2 828.8 671.0 831.0 671.0 C833.2 671.0 836.8 670.2 838.0 670.0"/>
<path d="M847.4 672.0 C847.4 668.0 846.8 653.0 847.4 648.0 C848.0 643.0 848.7 643.1 851.0 642.0 C853.3 640.9 857.7 641.1 861.0 641.3 C864.3 641.5 868.7 641.9 871.0 643.0 C873.3 644.1 874.3 644.3 875.0 648.0 C875.7 651.7 875.1 662.2 875.1 665.0"/>
<path d="M853.0 657.0 C854.2 657.2 857.7 658.0 860.0 658.0 C862.3 658.0 865.8 657.2 867.0 657.0"/>
<path d="M842.0 642.0 C842.0 639.3 841.3 629.4 842.0 626.0 C842.7 622.6 844.2 622.3 846.0 621.5 C847.8 620.7 850.7 620.8 853.0 621.0 C855.3 621.2 858.5 621.5 860.0 622.5 C861.5 623.5 861.7 623.9 862.0 627.0 C862.3 630.1 862.0 638.7 862.0 641.0"/>
<path d="M846.0 635.0 C846.8 635.2 849.5 636.0 851.0 636.0 C852.5 636.0 854.3 635.2 855.0 635.0"/>
<!-- 08_fork.txt -->
<ellipse cx="866.9" cy="279.1" rx="14.5" ry="7.8"/>
<path d="M852.4 280.0 C852.4 283.3 852.3 294.4 852.3 300.0 C852.3 305.6 852.2 311.2 852.2 313.4"/>
<path d="M881.4 280.0 C881.4 283.3 881.4 294.4 881.4 300.0 C881.4 305.6 881.4 311.2 881.4 313.4"/>
<path d="M852.4 282.0 C853.7 282.7 857.4 285.2 860.0 286.0 C862.6 286.8 864.4 287.5 868.0 287.0 C871.6 286.5 879.2 283.7 881.4 283.0"/>
<ellipse cx="861.5" cy="296.3" rx="4" ry="4.2"/>
<path d="M852.2 307.0 C854.5 307.1 861.1 307.9 866.0 307.6 C870.9 307.4 878.8 305.9 881.4 305.5"/>
<path d="M852 311 L856 314" style="stroke-width:2.3"/>
<path d="M861 312 L861 317" style="stroke-width:2.3"/>
<path d="M865 312 L865 317" style="stroke-width:2.3"/>
<path d="M869 312 L869 317" style="stroke-width:2.3"/>
<path d="M874 311 L879 314" style="stroke-width:2.3"/>
<path d="M850.4 313.4 C850.4 317.8 850.3 331.8 850.2 340.0 C850.1 348.2 848.8 357.8 850.0 362.5 C851.2 367.2 855.0 367.2 857.3 368.3 C859.6 369.4 861.6 369.0 864.0 369.0 C866.4 369.0 869.4 369.4 871.8 368.3 C874.2 367.2 877.1 367.2 878.4 362.5 C879.7 357.8 879.0 348.2 879.4 340.0 C879.8 331.8 880.4 317.8 880.6 313.4"/>
<path d="M850.4 296.3 C848.5 297.1 842.8 298.5 839.3 301.3 C835.8 304.1 832.2 308.7 829.2 313.4 C826.2 318.1 823.1 324.4 821.1 329.5 C819.1 334.6 817.6 339.9 817.1 343.7 C816.6 347.5 816.0 349.9 818.0 352.3 C820.0 354.7 826.1 356.1 829.0 357.8 C831.9 359.5 835.1 361.0 835.5 362.5 C835.9 364.0 832.7 364.9 831.1 366.8 C829.5 368.7 827.0 371.7 826.0 374.1 C825.0 376.5 825.4 380.2 825.3 381.4"/>
<path d="M850.4 311.4 C849.0 313.1 844.8 317.8 842.3 321.5 C839.8 325.2 836.8 329.9 835.3 333.6 C833.8 337.3 832.7 341.4 833.2 343.7 C833.7 346.0 835.6 347.0 838.3 347.7 C841.0 348.4 847.5 347.7 849.4 347.7"/>
<path d="M848.0 318.0 C847.0 319.5 843.8 323.7 842.0 327.0 C840.2 330.3 837.8 336.2 837.0 338.0" style="stroke-width:2.2"/>
<path d="M882.7 295.3 C884.9 295.8 891.3 297.1 895.8 298.3 C900.3 299.5 905.2 301.1 909.9 302.3 C914.6 303.5 919.6 304.0 924.0 305.3 C928.4 306.6 931.7 308.5 936.1 310.4 C940.5 312.2 945.5 315.9 950.2 316.4 C954.9 316.9 959.9 314.6 964.3 313.4 C968.7 312.2 973.4 309.6 976.4 309.4 C979.4 309.2 981.1 310.9 982.5 312.4 C983.9 313.9 984.5 316.4 984.5 318.4 C984.5 320.4 984.9 322.6 982.5 324.5 C980.1 326.4 974.1 328.0 970.4 329.5 C966.7 331.0 964.3 333.1 960.3 333.6 C956.3 334.1 950.6 333.3 946.2 332.6 C941.8 331.9 938.5 330.0 934.1 329.5 C929.7 329.0 923.7 329.1 920.0 329.5 C916.3 329.9 914.6 330.2 911.9 331.6 C909.2 333.0 906.1 334.6 903.8 337.6 C901.4 340.6 899.8 345.3 897.8 349.7 C895.8 354.1 893.7 360.1 891.7 363.8 C889.7 367.5 888.7 369.9 885.7 371.9 C882.7 373.9 878.0 374.9 873.6 375.9 C869.2 376.9 863.2 377.2 859.5 377.9 C855.8 378.6 853.4 378.6 851.4 380.0 C849.4 381.4 848.4 383.3 847.4 386.0 C846.4 388.7 845.7 394.4 845.4 396.1"/>
<path d="M984.5 318.4 C983.1 319.0 979.2 320.6 976.0 322.0 C972.8 323.4 967.7 325.5 965.0 326.5 C962.3 327.5 960.8 327.8 960.0 328.0"/>
<path d="M909.0 334.5 C910.5 334.2 914.5 333.1 918.0 333.0 C921.5 332.9 925.3 333.7 930.0 334.0 C934.7 334.3 941.0 335.1 946.0 335.0 C951.0 334.9 957.7 333.8 960.0 333.6"/>
<path d="M849.3 379.9 C850.6 379.3 853.5 377.1 857.3 376.3 C861.0 375.5 867.4 375.4 871.8 374.8 C876.2 374.2 880.4 374.2 883.5 372.6 C886.6 371.0 888.5 368.5 890.7 365.4 C892.9 362.2 894.5 357.1 896.5 353.7 C898.5 350.3 900.5 347.9 902.4 345.0 C904.3 342.1 907.1 337.5 908.0 336.0"/>
<ellipse cx="914" cy="307" rx="8" ry="4.5"/>
<path d="M906.0 307.0 C906.0 307.7 904.7 309.8 906.0 311.0 C907.3 312.2 911.3 314.0 914.0 314.0 C916.7 314.0 920.7 312.2 922.0 311.0 C923.3 309.8 922.0 307.7 922.0 307.0"/>
<path d="M903.8 337.6 C904.2 338.5 904.6 341.6 906.0 343.0 C907.4 344.4 909.3 345.4 912.0 345.7 C914.7 346.0 919.7 345.9 922.0 345.0 C924.3 344.1 925.3 342.0 926.0 340.0 C926.7 338.0 926.0 334.2 926.0 333.0"/>
<path d="M847.1 386.0 C847.1 391.7 847.1 412.0 847.1 420.0 C847.1 428.0 846.6 430.8 847.3 434.0 C847.9 437.2 848.5 437.9 851.0 439.0 C853.5 440.1 858.3 440.5 862.0 440.5 C865.7 440.5 870.4 440.1 873.0 439.0 C875.6 437.9 876.7 437.2 877.6 434.0 C878.5 430.8 878.1 428.8 878.2 420.0 C878.3 411.2 878.4 387.8 878.4 381.4"/>
<path d="M849.3 383.0 C851.1 382.8 856.4 382.3 860.0 382.0 C863.6 381.7 867.9 381.1 871.0 381.0 C874.1 380.9 877.2 381.3 878.4 381.4"/>
<circle cx="826" cy="391.5" r="10.4"/>
<path d="M833.0 381.0 C833.8 381.5 836.8 382.5 838.0 384.0 C839.2 385.5 839.9 387.8 840.0 390.0 C840.1 392.2 839.5 395.3 838.5 397.0 C837.5 398.7 834.8 399.5 834.0 400.0"/>
<path d="M829.6 371.9 L845.6 380.6"/>
<path d="M845.6 380.6 C845.9 381.9 847.1 385.6 847.1 388.6 C847.1 391.6 847.3 397.0 845.6 398.8 C843.9 400.6 838.4 399.4 836.9 399.5"/>
<path d="M826 391 L829 399"/>
<path d="M778.7 363.9 C779.7 362.8 782.3 359.0 784.5 357.4 C786.7 355.8 788.9 353.8 791.8 354.5 C794.7 355.2 800.2 360.0 802.0 361.7 C803.8 363.4 803.3 363.8 802.7 364.6 C802.1 365.5 799.0 365.2 798.4 366.8 C797.8 368.4 798.4 371.9 799.1 374.1 C799.8 376.3 802.3 378.0 802.7 379.9 C803.1 381.8 802.6 384.5 801.3 385.7 C800.0 386.9 796.8 387.4 794.7 387.2 C792.6 387.0 791.6 385.4 788.9 384.3 C786.2 383.2 780.4 384.0 778.7 380.6 C777.0 377.2 778.7 366.7 778.7 363.9"/>
<path d="M784.5 363.9 L784.5 382.8"/>
<path d="M778.7 363.9 C779.7 364.2 781.6 366.4 784.5 366.0 C787.4 365.6 794.1 362.2 796.0 361.5"/>
<path d="M798.4 366.8 C797.0 367.1 791.8 367.3 790.0 368.5 C788.2 369.7 787.6 371.9 787.5 374.0 C787.4 376.1 788.3 379.3 789.5 381.0 C790.7 382.7 793.8 383.8 794.7 384.3" style="stroke-width:2"/>
<path d="M890.7 433.7 C891.7 432.7 894.7 429.1 896.5 427.9 C898.3 426.7 898.4 425.3 901.6 426.5 C904.8 427.7 913.0 433.3 915.5 435.2 C918.0 437.1 916.7 435.2 916.9 438.1 C917.1 441.0 919.3 449.3 916.9 452.6 C914.5 455.9 905.2 457.1 902.4 457.7 C899.6 458.3 901.9 457.1 900.2 456.3 C898.5 455.5 893.8 454.2 892.2 452.6 C890.6 451.0 890.2 448.2 890.7 446.8 C891.2 445.4 894.6 445.3 895.1 443.9 C895.6 442.4 894.3 439.8 893.6 438.1 C892.9 436.4 891.2 434.4 890.7 433.7"/>
<path d="M902.4 436.6 L902.4 457.7"/>
<path d="M891.0 434.0 C892.9 434.4 898.3 436.4 902.4 436.6 C906.5 436.9 913.3 435.7 915.5 435.5"/>
<!-- 10_hs_left.txt -->
<ellipse cx="98.6" cy="180.4" rx="16" ry="8.6"/>
<ellipse cx="99.1" cy="180.2" rx="6.9" ry="4"/>
<path d="M82.7 180.0 C82.6 183.3 82.3 194.2 82.0 200.0 C81.7 205.8 81.3 210.2 81.0 215.0 C80.7 219.8 80.2 226.7 80.0 229.0"/>
<path d="M114.5 181 L114.5 214.5"/>
<path d="M80.0 229.0 C80.3 230.2 79.6 233.7 81.8 236.0 C84.0 238.3 89.0 240.8 93.0 243.0 C97.0 245.2 103.1 245.2 105.5 249.0 C107.9 252.8 107.0 262.8 107.3 265.5"/>
<path d="M87.3 218.0 C88.8 218.8 93.0 221.5 96.0 223.0 C99.0 224.5 100.8 225.2 105.5 227.0 C110.2 228.8 121.3 232.5 124.5 233.6"/>
<path d="M114.5 211.0 C115.8 210.8 119.6 209.8 122.0 209.5 C124.4 209.2 127.8 209.1 129.0 209.0"/>
<path d="M114.5 176.4 C115.8 176.2 119.2 175.3 122.0 175.0 C124.8 174.7 129.5 174.6 131.0 174.5"/>
<path d="M114.5 184.0 C115.8 183.8 119.2 182.8 122.0 182.5 C124.8 182.2 129.5 182.1 131.0 182.0"/>
<path d="M131.8 143.6 L131.8 207"/>
<path d="M131.8 143.6 C132.2 142.9 133.2 140.6 134.0 139.5 C134.8 138.4 135.2 137.8 136.4 137.3 C137.6 136.8 139.7 136.6 141.0 136.7 C142.3 136.8 143.2 137.4 144.0 138.0 C144.8 138.6 145.0 140.1 146.0 140.5 C147.0 140.9 148.6 140.0 150.0 140.5 C151.4 141.0 152.5 142.9 154.5 143.6 C156.5 144.3 160.6 144.3 161.8 144.5"/>
<path d="M134.0 140.0 C134.5 140.3 135.8 141.8 137.0 142.0 C138.2 142.2 139.8 140.7 141.0 141.0 C142.2 141.3 142.8 143.2 144.0 144.0 C145.2 144.8 146.7 145.8 148.0 146.0 C149.3 146.2 150.7 145.5 152.0 145.0 C153.3 144.5 155.3 143.3 156.0 143.0"/>
<path d="M163.6 144.5 L163.6 204.5"/>
<path d="M166 146 L166 203"/>
<path d="M132.7 207.3 L163.6 204.5"/>
<path d="M163.6 144.5 L196.4 162.7"/>
<path d="M165.5 161.8 L191 174.5"/>
<path d="M161.8 205.5 C164.5 203.9 173.1 199.9 178.0 196.0 C182.9 192.1 187.9 187.4 191.0 181.8 C194.1 176.2 195.5 165.9 196.4 162.7"/>
<path d="M166.0 197.0 C167.0 196.3 170.0 194.2 172.0 193.0 C174.0 191.8 177.0 190.5 178.0 190.0"/>
<path d="M132.7 209.0 C132.1 211.1 129.9 215.4 129.0 221.8 C128.1 228.2 127.3 237.6 127.3 247.3 C127.3 257.0 128.4 271.2 129.0 280.0 C129.6 288.8 130.7 296.7 131.0 300.0"/>
<path d="M138.0 231.0 C138.0 235.0 137.8 246.8 137.8 255.0 C137.8 263.2 137.8 272.5 138.0 280.0 C138.2 287.5 138.8 296.7 139.0 300.0"/>
<!-- 11_hs_bore.txt -->
<ellipse cx="248" cy="145.5" rx="29.3" ry="16.3"/>
<path d="M242.4 133 L242.4 308"/>
<path d="M203.6 130 L209.1 134.5 L211.8 137.3" style="stroke-width:1.6"/>
<path d="M211.8 137.3 L214 132 L216.4 130 L218.5 128 L220.9 126.4 L224 125.8 L227.3 124.5 L230 123.6 L232 124.8 L234.5 125.5 L237 123.8 L240 122.7 L242.5 123.9 L245.5 124.5 L248 123.8 L250.9 123.6 L254.5 122.7 L256.5 125 L258.2 126.4 L261 125.9 L263.6 125.9 L266 127.2 L269.1 128.2 L272.7 130 L275.5 129.5 L278.2 129.5" style="stroke-width:1.6"/>
<path d="M206 135 L208 138 L211 140" style="stroke-width:2.4"/>
<path d="M280 120 L282 128 L283 135 L286 142" style="stroke-width:2.4"/>
<path d="M206.6 142.5 C205.8 144.1 203.3 148.0 201.7 152.3 C200.0 156.6 198.3 163.7 196.7 168.4 C195.0 173.1 193.7 176.4 191.8 180.7 C190.0 185.0 188.3 190.0 185.6 194.3 C182.9 198.6 179.3 202.9 175.8 206.6 C172.3 210.3 169.0 214.2 164.7 216.5 C160.4 218.8 152.4 219.6 149.9 220.2" style="stroke-width:2"/>
<path d="M210.3 151.1 C209.5 153.4 207.2 159.3 205.4 164.7 C203.6 170.0 201.5 177.4 199.2 183.2 C196.9 188.9 194.7 194.3 191.8 199.2 C188.9 204.1 185.4 208.3 181.9 212.8 C178.4 217.3 174.7 222.4 170.8 226.3 C166.9 230.2 161.8 233.5 158.5 236.2 C155.2 238.9 152.6 239.3 151.1 242.4 C149.6 245.5 149.8 245.4 149.5 255.0 C149.2 264.6 149.1 286.2 149.0 300.0 C148.9 313.8 149.0 331.7 149.0 338.0" style="stroke-width:2"/>
<path d="M216.5 157.3 C216.1 159.6 215.2 165.5 214.0 170.8 C212.8 176.1 210.8 183.1 209.1 189.3 C207.4 195.5 206.2 202.0 204.1 207.8 C202.0 213.6 199.2 219.2 196.7 223.9 C194.2 228.6 192.2 232.1 189.3 236.2 C186.4 240.3 183.6 245.3 179.5 248.6 C175.4 251.9 168.2 253.7 164.7 256.0 C161.2 258.3 159.7 258.7 158.5 262.2 C157.3 265.7 157.7 270.8 157.3 277.0 C156.9 283.2 155.8 295.3 156.0 299.2 C156.2 303.1 155.0 301.2 158.5 300.4 C162.0 299.6 173.9 295.3 177.0 294.3" style="stroke-width:2"/>
<path d="M226.3 164.7 C225.9 169.8 224.8 185.4 223.9 195.5 C223.0 205.6 222.7 217.6 221.0 225.0 C219.3 232.4 216.2 235.4 214.0 240.0 C211.8 244.6 210.3 249.2 207.8 252.3 C205.3 255.4 202.1 256.0 199.2 258.5 C196.3 261.0 192.6 264.0 190.6 267.1 C188.6 270.2 187.7 271.2 186.9 277.0 C186.1 282.8 185.8 291.4 185.6 301.7 C185.4 312.0 185.6 332.5 185.6 338.7" style="stroke-width:2"/>
<path d="M233.5 164.7 C233.3 169.8 232.5 182.9 232.5 195.5 C232.5 208.1 234.5 228.1 233.7 240.0 C232.9 251.9 229.2 260.5 227.6 267.1 C226.0 273.7 224.9 273.7 223.9 279.5 C222.9 285.3 221.8 289.9 221.4 301.7 C221.0 313.4 221.4 341.9 221.4 350.0" style="stroke-width:2"/>
<path d="M213.0 156.0 C212.2 158.3 210.4 164.3 208.5 170.0 C206.6 175.7 203.8 184.5 201.5 190.0 C199.2 195.5 197.8 198.7 195.0 203.0 C192.2 207.3 188.5 211.7 185.0 216.0 C181.5 220.3 177.8 225.2 174.0 229.0 C170.2 232.8 165.1 236.2 162.0 239.0 C158.9 241.8 156.9 242.8 155.5 246.0 C154.1 249.2 153.8 256.0 153.5 258.0" style="stroke-width:1.4"/>
<path d="M219.0 160.0 C218.8 161.7 218.8 165.0 217.7 170.0 C216.6 175.0 214.2 183.7 212.5 190.0 C210.8 196.3 209.5 202.2 207.5 208.0 C205.5 213.8 202.9 220.1 200.5 225.0 C198.1 229.9 195.8 233.5 193.0 237.5 C190.2 241.5 188.0 245.6 184.0 249.0 C180.0 252.4 172.6 255.3 169.0 258.0 C165.4 260.7 163.8 261.3 162.5 265.0 C161.2 268.7 161.8 274.8 161.5 280.0 C161.2 285.2 161.1 293.3 161.0 296.0" style="stroke-width:1.4"/>
<path d="M221.4 164.7 C221.2 169.8 220.9 185.4 220.2 195.5 C219.5 205.6 218.9 217.6 217.0 225.0 C215.1 232.4 211.2 235.4 209.0 240.0 C206.8 244.6 206.3 248.8 204.1 252.3 C201.8 255.8 198.0 258.3 195.5 261.0 C193.0 263.7 191.2 265.7 189.3 268.4 C187.5 271.1 185.4 271.4 184.4 277.0 C183.4 282.6 183.4 291.8 183.2 301.7 C183.0 311.6 183.2 330.4 183.2 336.2" style="stroke-width:1.4"/>
<path d="M230.0 164.7 C229.8 169.8 229.0 182.9 228.8 195.5 C228.6 208.1 229.4 228.5 228.8 240.0 C228.2 251.5 226.3 258.5 225.1 264.7 C223.9 270.9 222.2 270.8 221.4 277.0 C220.6 283.2 220.6 289.5 220.2 301.7 C219.8 313.9 219.1 341.9 218.9 350.0" style="stroke-width:1.4"/>
<path d="M228.8 247.4 C227.2 249.7 221.4 258.1 218.9 261.0 C216.4 263.9 215.7 262.8 214.0 264.7 C212.3 266.6 211.3 269.2 209.0 272.1 C206.7 275.0 202.5 278.6 200.4 281.9 C198.3 285.2 197.3 285.2 196.7 291.8 C196.1 298.4 196.7 316.5 196.7 321.4" style="stroke-width:1.4"/>
<path d="M237.4 164.7 C237.4 169.8 237.6 182.9 237.4 195.5 C237.2 208.1 237.0 226.8 236.2 240.0 C235.4 253.2 234.2 265.2 232.5 274.5 C230.8 283.8 227.3 292.0 226.3 295.5" style="stroke-width:1.4"/>
<path d="M241.1 252.3 C240.9 256.4 240.1 265.7 239.9 277.0 C239.7 288.3 236.6 311.1 239.9 320.2 C243.2 329.2 256.3 329.4 259.6 331.3" style="stroke-width:1.4"/>
<path d="M184.4 268.4 C183.2 269.6 178.4 272.3 177.0 275.8 C175.6 279.3 175.8 285.0 175.8 289.3 C175.8 293.6 177.0 296.4 177.0 301.7 C177.0 307.0 176.0 318.1 175.8 321.4" style="stroke-width:1.4"/>
<path d="M194.3 164.7 C193.7 167.2 191.7 174.9 190.5 180.0 C189.3 185.1 187.5 192.9 186.9 195.5" style="stroke-width:1.4"/>
<path d="M248.0 168.0 C248.0 175.0 247.7 196.3 248.0 210.0 C248.3 223.7 248.7 239.3 250.0 250.0 C251.3 260.7 254.0 264.3 256.0 274.0 C258.0 283.7 261.0 302.3 262.0 308.0"/>
<path d="M251.0 168.0 C251.2 175.0 251.5 196.3 252.0 210.0 C252.5 223.7 252.7 239.3 254.0 250.0 C255.3 260.7 258.0 264.3 260.0 274.0 C262.0 283.7 265.0 302.3 266.0 308.0"/>
<path d="M254.0 167.0 C254.3 174.2 254.7 196.8 256.0 210.0 C257.3 223.2 259.7 236.0 262.0 246.0 C264.3 256.0 267.3 262.7 270.0 270.0 C272.7 277.3 276.0 285.0 278.0 290.0 C280.0 295.0 281.3 298.3 282.0 300.0"/>
<path d="M258.0 167.0 C258.3 174.2 258.7 196.8 260.0 210.0 C261.3 223.2 263.7 236.3 266.0 246.0 C268.3 255.7 271.3 261.3 274.0 268.0 C276.7 274.7 280.7 283.0 282.0 286.0" style="stroke-width:2.2"/>
<path d="M262.0 166.0 C262.7 173.3 264.0 197.3 266.0 210.0 C268.0 222.7 270.7 233.3 274.0 242.0 C277.3 250.7 281.3 255.7 286.0 262.0 C290.7 268.3 299.3 277.0 302.0 280.0" style="stroke-width:1.4"/>
<path d="M265.0 165.0 C265.8 172.5 267.8 197.2 270.0 210.0 C272.2 222.8 274.7 233.7 278.0 242.0 C281.3 250.3 285.3 254.0 290.0 260.0 C294.7 266.0 303.3 275.0 306.0 278.0" style="stroke-width:2.2"/>
<path d="M271.1 164.3 C271.4 169.4 272.0 185.2 272.9 194.8 C273.8 204.4 274.7 214.2 276.5 221.7 C278.3 229.2 280.7 234.6 283.7 239.7 C286.7 244.8 290.3 248.6 294.5 252.2 C298.7 255.8 303.4 257.9 308.8 261.2 C314.2 264.5 321.5 267.5 326.7 272.0 C331.9 276.5 335.1 284.1 340.0 288.2 C344.9 292.3 350.9 293.1 356.4 296.4 C361.8 299.7 370.0 305.9 372.7 307.8" style="stroke-width:1.4"/>
<path d="M276.5 160.8 C277.1 165.0 278.6 177.2 280.1 185.9 C281.6 194.6 283.7 205.6 285.5 212.8 C287.3 220.0 288.5 223.8 290.9 228.9 C293.3 234.0 296.8 239.4 299.8 243.3 C302.8 247.2 304.9 249.2 308.8 252.2 C312.7 255.2 318.0 257.9 323.2 261.2 C328.4 264.5 334.5 268.9 340.0 271.8 C345.5 274.7 350.9 275.7 356.4 278.4 C361.8 281.1 367.2 284.9 372.7 288.2 C378.1 291.5 385.0 294.4 389.1 298.0 C393.2 301.6 395.9 308.0 397.3 310.0" style="stroke-width:2.2"/>
<path d="M285.5 157.0 C286.1 161.8 286.9 177.5 289.0 185.9 C291.1 194.3 294.7 201.4 298.0 207.4 C301.3 213.4 304.6 217.2 308.8 221.7 C313.0 226.2 318.0 229.0 323.2 234.3 C328.4 239.7 334.5 249.2 340.0 253.8 C345.5 258.4 350.9 259.3 356.4 262.0 C361.8 264.7 367.2 267.2 372.7 270.2 C378.1 273.2 384.2 277.0 389.1 280.0 C394.0 283.0 399.5 285.5 402.2 288.2 C404.9 290.9 404.9 292.8 405.5 296.4 C406.1 300.0 405.5 307.7 405.5 310.0" style="stroke-width:1.4"/>
<path d="M290.9 160.8 C291.8 165.0 293.9 178.7 296.3 185.9 C298.7 193.1 301.6 198.4 305.2 203.8 C308.8 209.2 314.2 214.6 317.8 218.2 C321.4 221.8 323.0 222.4 326.7 225.3 C330.4 228.2 335.1 232.7 340.0 235.8 C344.9 238.9 350.9 240.7 356.4 244.0 C361.8 247.3 367.2 252.2 372.7 255.5 C378.1 258.8 383.6 260.1 389.1 263.6 C394.6 267.1 401.4 273.1 405.5 276.7 C409.6 280.2 411.4 282.4 413.6 284.9 C415.8 287.4 417.4 287.3 418.5 291.5 C419.6 295.7 419.9 306.9 420.2 310.0" style="stroke-width:2.2"/>
<path d="M298.0 164.3 C298.6 167.9 299.8 179.9 301.6 185.9 C303.4 191.9 305.2 195.7 308.8 200.2 C312.4 204.7 317.2 209.2 323.2 212.8 C329.2 216.4 339.2 218.9 344.7 221.7 C350.2 224.4 351.7 226.7 356.4 229.3 C361.1 231.9 368.3 235.1 372.7 237.5 C377.1 239.9 380.0 241.6 382.5 244.0 C385.0 246.4 386.4 249.2 387.5 252.2 C388.6 255.2 388.8 260.4 389.1 262.0" style="stroke-width:2.2"/>
<!-- 12_hs_topleft.txt -->
<path d="M185.5 123.6 C185.8 120.0 186.8 110.0 187.5 101.8 C188.2 93.6 188.0 82.7 189.5 74.5 C191.0 66.3 193.4 58.4 196.4 52.7 C199.4 47.0 203.2 43.9 207.3 40.5 C211.4 37.1 216.4 34.1 220.9 32.3 C225.4 30.5 230.4 29.5 234.5 29.5 C238.6 29.5 242.5 31.1 245.5 32.3 C248.5 33.4 249.6 34.6 252.3 36.4 C255.0 38.2 259.3 40.9 261.8 43.2 C264.3 45.5 265.9 48.0 267.3 50.0 C268.7 52.0 268.9 53.9 270.0 55.5 C271.1 57.1 273.4 58.8 274.1 59.5"/>
<path d="M204.5 88.2 C205.7 85.5 208.9 76.6 211.4 71.8 C213.9 67.0 216.1 63.4 219.5 59.5 C222.9 55.6 227.9 51.4 231.8 48.6 C235.7 45.8 239.1 44.0 242.7 42.5 C246.3 41.0 250.4 39.8 253.6 39.8 C256.8 39.8 259.5 41.2 261.8 42.5 C264.1 43.8 266.4 46.5 267.3 47.3"/>
<path d="M214.1 77.3 C215.2 75.0 217.9 67.7 220.9 63.6 C223.9 59.5 228.2 55.4 231.8 52.7 C235.4 50.0 239.1 48.5 242.7 47.3 C246.3 46.0 250.4 45.2 253.6 45.2 C256.8 45.2 259.1 45.6 261.8 47.3 C264.5 49.0 268.6 54.1 270.0 55.5"/>
<path d="M192.3 84.1 L204.5 90.9"/>
<path d="M188.2 110.0 C189.8 108.4 194.8 103.5 197.7 100.5 C200.6 97.5 203.6 95.7 205.9 92.3 C208.2 88.9 210.5 82.0 211.4 80.0"/>
<path d="M205.9 86.8 C207.9 85.4 213.9 79.0 218.2 78.6 C222.5 78.1 227.7 82.0 231.8 84.1 C235.9 86.1 239.1 88.9 242.7 90.9 C246.3 93.0 250.9 94.1 253.6 96.4 C256.3 98.7 258.0 99.5 259.1 104.5 C260.2 109.5 260.3 122.8 260.5 126.4"/>
<path d="M208.6 89.5 C210.7 90.4 216.6 92.7 220.9 95.0 C225.2 97.3 230.4 100.9 234.5 103.2 C238.6 105.5 241.8 106.5 245.5 108.6 C249.2 110.6 254.6 114.3 256.4 115.5"/>
<path d="M188.2 112.7 C190.2 112.5 196.9 110.9 200.5 111.4 C204.1 111.9 207.1 113.5 210.0 115.5 C212.9 117.5 215.7 121.6 218.2 123.6 C220.7 125.6 223.9 127.0 225.0 127.7" style="stroke-width:1.8"/>
<path d="M210.0 112.7 C211.8 112.0 216.8 110.2 220.9 108.6 C225.0 107.0 230.9 103.4 234.5 103.2 C238.1 103.0 239.5 105.5 242.7 107.3 C245.9 109.1 251.8 113.0 253.6 114.1"/>
<path d="M231.8 82.7 C231.8 81.3 230.9 76.8 231.8 74.5 C232.7 72.2 235.2 70.2 237.3 69.1 C239.4 68.0 241.4 68.2 244.1 67.7 C246.8 67.2 250.6 67.1 253.6 66.4 C256.6 65.7 258.6 64.5 261.8 63.6 C265.0 62.7 269.5 61.1 272.7 60.9 C275.9 60.7 278.8 60.9 280.9 62.3 C282.9 63.7 284.8 66.8 285.0 69.1 C285.2 71.4 283.9 74.1 282.3 75.9 C280.7 77.7 278.0 79.3 275.5 80.0 C273.0 80.7 268.7 80.0 267.3 80.0"/>
<path d="M261.8 63.6 C261.8 65.4 260.9 71.8 261.8 74.5 C262.7 77.2 266.4 79.1 267.3 80.0"/>
<path d="M244.0 67.7 C245.0 68.2 248.3 69.3 250.0 70.5 C251.7 71.7 253.3 74.2 254.0 75.0" style="stroke-width:1.8"/>
<path d="M231.8 84.1 C234.5 85.5 242.8 90.2 248.2 92.3 C253.6 94.3 259.9 94.8 264.5 96.4 C269.1 98.0 271.4 99.5 275.5 101.8 C279.6 104.1 286.2 107.7 289.1 110.0 C292.1 112.3 292.5 114.6 293.2 115.5" style="stroke-width:1.8"/>
<path d="M267.3 80.0 C268.7 80.7 272.3 82.0 275.5 84.1 C278.7 86.1 283.7 89.3 286.4 92.3 C289.1 95.2 291.4 97.9 291.8 101.8 C292.2 105.7 290.7 111.0 289.1 115.5 C287.5 120.0 283.7 125.0 282.3 129.1 C280.9 133.2 281.1 138.2 280.9 140.0" style="stroke-width:1.8"/>
<path d="M256.4 104.5 C257.3 105.0 260.9 103.6 261.8 107.3 C262.7 111.0 261.8 123.2 261.8 126.4"/>
<path d="M258.0 104.0 L258.5 126.0"/>
<path d="M283.6 55.5 C284.5 54.8 286.4 52.8 289.1 51.4 C291.8 50.0 296.6 48.2 300.0 47.3 C303.4 46.4 306.8 45.7 309.5 45.9 C312.2 46.1 314.1 48.7 316.4 48.6 C318.7 48.5 320.9 45.7 323.2 45.2 C325.5 44.8 328.9 45.8 330.0 45.9"/>
<path d="M291.8 63.6 C292.9 62.7 295.7 59.3 298.6 58.2 C301.6 57.1 306.8 57.7 309.5 56.8 C312.2 55.9 312.7 52.9 315.0 52.7 C317.3 52.5 320.7 55.3 323.2 55.5 C325.7 55.7 328.9 54.3 330.0 54.1"/>
<path d="M286.4 60.9 C286.4 62.0 285.9 65.4 286.4 67.7 C286.8 70.0 288.2 72.2 289.1 74.5 C290.0 76.8 289.5 80.7 291.8 81.4 C294.1 82.1 300.2 80.2 302.7 78.6 C305.2 77.0 306.8 73.6 306.8 71.8 C306.8 70.0 304.5 68.6 302.7 67.7 C300.9 66.8 297.0 66.6 295.9 66.4"/>
<path d="M289.1 84.1 C291.4 83.4 298.1 81.6 302.7 80.0 C307.2 78.4 311.8 76.5 316.4 74.5 C320.9 72.5 327.7 68.8 330.0 67.7"/>
<path d="M289.1 90.9 C291.4 90.0 298.1 87.3 302.7 85.5 C307.2 83.7 311.8 81.8 316.4 80.0 C320.9 78.2 327.7 75.4 330.0 74.5"/>
<path d="M185.5 123.6 C185.0 125.3 184.6 130.4 182.7 133.8 C180.8 137.2 176.5 141.6 173.8 144.0 C171.1 146.4 167.7 147.8 166.5 148.5"/>
<!-- 13_hs_topmid.txt -->
<path d="M300.0 47.7 C301.4 47.5 305.7 46.2 308.2 46.4 C310.7 46.6 312.9 49.3 315.0 49.1 C317.1 48.9 318.4 45.7 320.5 45.0 C322.6 44.3 324.6 44.3 327.3 45.0 C330.0 45.7 333.9 48.6 336.8 49.1 C339.8 49.6 342.1 48.2 345.0 47.7 C347.9 47.2 351.6 46.6 354.5 46.4 C357.4 46.2 359.7 47.1 362.7 46.4 C365.7 45.7 369.1 43.2 372.3 42.3 C375.5 41.4 379.3 40.4 381.8 40.9 C384.3 41.4 385.9 43.0 387.3 45.0 C388.7 47.0 389.6 51.8 390.0 53.2" style="stroke-width:1.8"/>
<path d="M300.0 54.5 C301.4 55.0 305.5 57.1 308.2 57.3 C310.9 57.5 313.9 56.4 316.4 55.9 C318.9 55.4 320.7 54.0 323.2 54.5 C325.7 55.0 328.4 57.5 331.4 58.6 C334.3 59.8 337.5 61.6 340.9 61.4 C344.3 61.2 348.2 58.4 351.8 57.3 C355.4 56.1 360.9 55.0 362.7 54.5" style="stroke-width:1.8"/>
<path d="M353.2 50.5 L362.7 49 L362.7 58.6 L353.2 59Z"/>
<ellipse cx="399.5" cy="66.5" rx="20.5" ry="9.9"/>
<ellipse cx="398.9" cy="65.4" rx="14.4" ry="6.1"/>
<path d="M378.5 67 L377.7 106.4"/>
<path d="M419.5 66 L418.6 113.2"/>
<path d="M368.2 64.1 C368.6 63.0 369.3 58.9 370.9 57.3 C372.5 55.7 374.8 55.2 377.7 54.5 C380.6 53.8 385.6 53.0 388.6 53.2 C391.6 53.4 394.4 55.5 395.5 55.9"/>
<path d="M418.6 64.1 C420.0 64.3 424.5 64.4 426.8 65.5 C429.1 66.6 431.2 67.3 432.3 70.9 C433.4 74.5 434.7 84.1 433.6 87.3 C432.5 90.5 426.9 89.5 425.5 90.0"/>
<path d="M418.6 113.2 C420.4 112.5 425.6 110.7 429.5 109.1 C433.4 107.5 438.4 105.0 441.8 103.6 C445.2 102.2 448.6 101.4 450.0 100.9"/>
<path d="M425.5 90.0 C427.3 89.5 433.2 87.3 436.4 87.3 C439.6 87.3 443.1 89.5 444.5 90.0"/>
<ellipse cx="324.5" cy="108.1" rx="19.1" ry="9.2"/>
<ellipse cx="324.5" cy="108.8" rx="13.6" ry="6.5"/>
<path d="M305.2 109 L304.1 165"/>
<path d="M306.5 118 L306.1 160"/>
<path d="M308.5 120 L308.2 150"/>
<path d="M343.8 109 L345 132.3"/>
<path d="M286.0 54.0 C286.0 55.7 285.0 62.0 286.0 64.0 C287.0 66.0 289.7 66.3 292.0 66.0 C294.3 65.7 297.3 63.7 300.0 62.0 C302.7 60.3 305.0 56.7 308.0 56.0 C311.0 55.3 315.0 56.7 318.0 58.0 C321.0 59.3 323.0 63.0 326.0 64.0 C329.0 65.0 333.7 64.7 336.0 64.0 C338.3 63.3 339.3 60.7 340.0 60.0"/>
<path d="M290 70 L306 66 L308 78 L290 84Z"/>
<path d="M272.0 84.0 C275.0 85.0 283.7 89.7 290.0 90.0 C296.3 90.3 302.3 88.3 310.0 86.0 C317.7 83.7 329.3 78.7 336.0 76.0 C342.7 73.3 347.7 71.0 350.0 70.0"/>
<path d="M260.0 60.0 C262.0 59.7 268.0 57.0 272.0 58.0 C276.0 59.0 281.3 63.3 284.0 66.0 C286.7 68.7 288.0 71.3 288.0 74.0 C288.0 76.7 286.7 80.7 284.0 82.0 C281.3 83.3 275.7 82.7 272.0 82.0 C268.3 81.3 263.7 78.7 262.0 78.0"/>
<path d="M260.0 90.0 C262.7 91.0 271.3 93.3 276.0 96.0 C280.7 98.7 284.0 103.7 288.0 106.0 C292.0 108.3 298.0 109.3 300.0 110.0"/>
<path d="M320.0 96.0 C323.3 94.3 333.3 89.3 340.0 86.0 C346.7 82.7 354.7 77.3 360.0 76.0 C365.3 74.7 369.3 75.7 372.0 78.0 C374.7 80.3 376.7 87.0 376.0 90.0 C375.3 93.0 372.7 93.7 368.0 96.0 C363.3 98.3 353.3 101.7 348.0 104.0 C342.7 106.3 338.0 109.0 336.0 110.0" style="stroke-width:1.8"/>
<path d="M322.0 100.0 C325.3 98.7 335.3 94.7 342.0 92.0 C348.7 89.3 358.7 85.3 362.0 84.0" style="stroke-width:1.8"/>
<path d="M320.0 78.0 C321.7 77.3 326.3 75.3 330.0 74.0 C333.7 72.7 338.7 70.8 342.0 70.0 C345.3 69.2 348.7 69.2 350.0 69.0"/>
<path d="M320 78 L320 94"/>
<path d="M330 74 L330 88"/>
<path d="M342 70 L342 84"/>
<path d="M420.0 64.0 C422.0 65.0 429.7 66.0 432.0 70.0 C434.3 74.0 435.0 84.7 434.0 88.0 C433.0 91.3 427.3 89.7 426.0 90.0"/>
<path d="M434.0 88.0 C436.3 88.0 444.3 86.3 448.0 88.0 C451.7 89.7 454.0 95.7 456.0 98.0 C458.0 100.3 459.3 101.3 460.0 102.0"/>
<path d="M372.0 142.0 C373.3 140.7 375.3 136.3 380.0 134.0 C384.7 131.7 393.3 130.0 400.0 128.0 C406.7 126.0 415.0 122.7 420.0 122.0 C425.0 121.3 427.7 122.7 430.0 124.0 C432.3 125.3 433.3 129.0 434.0 130.0"/>
<path d="M281 110 L281.5 142" style="stroke-width:1.8"/>
<path d="M285 112 L285.5 140" style="stroke-width:1.8"/>
<path d="M345.0 117.3 C347.5 116.4 355.2 112.7 360.0 111.8 C364.8 110.9 370.7 110.7 373.6 111.8 C376.6 112.9 377.0 116.5 377.7 118.6 C378.4 120.6 377.7 123.2 377.7 124.1"/>
<path d="M345.0 133.6 C348.9 132.2 359.8 128.0 368.2 125.5 C376.6 123.0 387.6 120.6 395.5 118.6 C403.4 116.5 412.5 114.1 415.9 113.2"/>
<path d="M313.6 139.1 C315.9 138.4 322.1 136.1 327.3 135.0 C332.5 133.9 342.1 132.8 345.0 132.3"/>
<path d="M345.0 147.3 C347.7 146.6 356.4 144.1 361.4 143.2 C366.4 142.3 372.7 142.0 375.0 141.8"/>
<!-- 14_hs_fins.txt -->
<path d="M374.1 148.2 L373.6 222" style="stroke-width:2.6"/>
<path d="M398 151 L397.5 230" style="stroke-width:2.6"/>
<path d="M416.4 153.5 L415.5 242" style="stroke-width:2.6"/>
<path d="M440.9 155 L439.5 272.8" style="stroke-width:2.6"/>
<path d="M470.9 150 L470.5 194.5" style="stroke-width:2.6"/>
<path d="M491.4 160.5 L491.8 202" style="stroke-width:2.6"/>
<path d="M380.2 152.3 L379.5 224" style="stroke-width:1.3"/>
<path d="M404.1 153.6 L403 230" style="stroke-width:1.3"/>
<path d="M428.6 156.4 L428 238" style="stroke-width:1.3"/>
<path d="M453.2 157.7 L452.8 220" style="stroke-width:1.3"/>
<path d="M479.1 148.2 L479 193" style="stroke-width:1.3"/>
<path d="M498.2 161.8 L498 234" style="stroke-width:1.3"/>
<path d="M375.5 146.8 C376.6 145.4 378.9 140.7 382.3 138.6 C385.7 136.5 390.2 136.5 395.9 134.5 C401.6 132.5 411.4 128.6 416.4 126.4 C421.4 124.2 423.4 122.1 425.9 121.6 C428.4 121.1 430.1 122.6 431.4 123.6 C432.6 124.6 433.1 127.0 433.4 127.7" style="stroke-width:1.3"/>
<path d="M380.2 150.0 C381.2 149.2 382.7 146.7 386.0 145.0 C389.3 143.3 394.7 142.0 400.0 140.0 C405.3 138.0 413.3 134.8 418.0 133.0 C422.7 131.2 425.8 129.3 428.0 129.0 C430.2 128.7 430.9 130.7 431.5 131.0" style="stroke-width:1.3"/>
<path d="M398.6 150.9 C399.5 150.0 400.0 147.8 404.1 145.5 C408.2 143.2 416.8 139.8 423.2 137.3 C429.6 134.8 437.8 132.3 442.3 130.5 C446.9 128.7 448.5 126.6 450.5 126.4 C452.5 126.2 453.8 128.7 454.5 129.1" style="stroke-width:1.3"/>
<path d="M404.1 153.6 C405.1 152.8 406.4 150.9 410.0 149.0 C413.6 147.1 420.3 144.2 426.0 142.0 C431.7 139.8 439.7 137.2 444.0 135.5 C448.3 133.8 450.7 132.6 452.0 132.0" style="stroke-width:1.3"/>
<path d="M417.7 152.3 C418.6 151.6 419.1 150.2 423.2 148.2 C427.3 146.1 435.9 142.5 442.3 140.0 C448.7 137.5 455.9 134.8 461.4 133.2 C466.8 131.6 472.1 130.3 475.0 130.5 C477.9 130.7 478.4 133.8 479.1 134.5" style="stroke-width:1.3"/>
<path d="M428.6 156.0 C429.5 155.3 431.1 153.7 434.0 152.0 C436.9 150.3 441.0 148.1 446.0 146.0 C451.0 143.9 459.0 141.2 464.0 139.5 C469.0 137.8 474.0 136.6 476.0 136.0" style="stroke-width:1.3"/>
<path d="M440.9 155.0 C442.0 154.3 443.8 152.7 447.7 150.9 C451.6 149.1 458.6 146.4 464.1 144.1 C469.6 141.8 475.9 138.9 480.5 137.3 C485.1 135.7 488.4 134.7 491.4 134.5 C494.3 134.3 497.1 135.7 498.2 135.9" style="stroke-width:1.3"/>
<path d="M454.5 157.7 C455.6 156.8 458.9 153.7 461.4 152.3 C463.9 150.9 468.1 150.0 469.5 149.5" style="stroke-width:1.3"/>
<path d="M355.0 142.7 C359.6 141.6 373.2 138.2 382.3 135.9 C391.4 133.6 402.2 131.6 409.5 129.1 C416.8 126.6 419.1 123.2 425.9 120.9 C432.7 118.6 441.9 117.5 450.5 115.5 C459.1 113.5 473.2 109.8 477.7 108.6" style="stroke-width:1.6"/>
<path d="M360.5 127.7 C364.1 126.6 373.2 123.4 382.3 120.9 C391.4 118.4 405.9 115.2 415.0 112.7 C424.1 110.2 430.4 108.4 436.8 105.9 C443.2 103.4 450.5 99.1 453.2 97.7" style="stroke-width:1.6"/>
<path d="M355.0 146.8 L375.5 145.5"/>
<path d="M466.8 108.6 C468.6 108.6 474.8 107.2 477.7 108.6 C480.6 110.0 483.1 114.5 484.5 116.8 C485.9 119.1 485.7 121.4 485.9 122.3"/>
<path d="M488.6 120.9 C490.4 120.9 497.0 119.8 499.5 120.9 C502.0 122.0 502.9 126.6 503.6 127.7"/>
<path d="M431.4 123.6 C432.8 122.8 436.9 120.0 440.0 119.0 C443.1 118.0 447.5 117.3 450.0 117.5 C452.5 117.7 454.0 118.8 455.0 120.0 C456.0 121.2 455.8 124.2 456.0 125.0"/>
<path d="M455.0 120.0 C456.7 119.0 461.7 115.3 465.0 114.0 C468.3 112.7 472.5 111.7 475.0 112.0 C477.5 112.3 479.2 115.3 480.0 116.0"/>
<path d="M356.0 210.0 C358.3 211.3 365.0 215.0 370.0 218.0 C375.0 221.0 381.0 225.0 386.0 228.0 C391.0 231.0 395.7 233.3 400.0 236.0 C404.3 238.7 409.7 240.3 412.0 244.0 C414.3 247.7 413.7 255.7 414.0 258.0"/>
<path d="M457.3 215.0 C459.6 211.4 467.5 197.1 470.9 193.2 C474.3 189.3 474.3 190.9 477.7 191.8 C481.1 192.7 489.1 197.5 491.4 198.6"/>
<path d="M356.4 211.3 C359.1 212.9 366.4 217.8 372.7 221.1 C379.0 224.4 388.5 227.3 394.0 230.9 C399.5 234.5 402.8 239.7 405.5 242.4 C408.2 245.1 409.6 243.5 410.4 247.3 C411.2 251.1 410.4 262.3 410.4 265.3"/>
<path d="M410.4 247.3 C412.3 246.2 417.7 241.5 421.8 240.7 C425.9 239.9 432.7 242.1 434.9 242.4"/>
<path d="M412.0 255.5 C414.2 254.9 421.3 253.0 425.1 252.2 C428.9 251.4 433.3 250.8 434.9 250.5"/>
<path d="M415.3 258.7 L415.3 278.4"/>
<path d="M416.9 280.0 C419.3 278.9 428.1 274.9 431.6 273.5 C435.2 272.1 437.1 272.1 438.2 271.8"/>
<path d="M431.6 271.8 C433.2 267.7 437.7 255.5 441.5 247.3 C445.3 239.1 450.1 230.6 454.5 222.7 C458.9 214.8 464.3 205.2 467.6 199.8 C470.9 194.4 473.1 191.6 474.2 190.0" style="stroke-width:1.6"/>
<path d="M435.0 274.0 C436.6 269.8 440.8 257.2 444.5 249.0 C448.2 240.8 453.2 232.4 457.5 224.5 C461.8 216.6 467.2 207.0 470.5 201.5 C473.8 196.0 476.3 193.2 477.5 191.5" style="stroke-width:1.6"/>
<path d="M446.4 291.5 C447.8 287.4 451.0 274.8 454.5 266.9 C458.0 259.0 463.2 251.4 467.6 244.0 C472.0 236.6 476.6 229.0 480.7 222.7 C484.8 216.4 489.5 210.8 492.2 206.4 C494.9 202.0 496.3 198.2 497.1 196.5" style="stroke-width:1.6"/>
<path d="M449.5 293.0 C450.8 288.9 454.0 276.4 457.5 268.5 C461.0 260.6 466.2 252.8 470.5 245.5 C474.8 238.2 479.4 230.8 483.5 224.5 C487.6 218.2 493.1 210.8 495.0 208.0" style="stroke-width:1.6"/>
<path d="M475.8 278.4 C476.9 275.1 479.4 264.7 482.4 258.7 C485.4 252.7 490.5 245.9 493.8 242.4 C497.1 238.9 500.6 238.3 502.0 237.5"/>
<path d="M301.6 180.5 C303.7 181.7 310.6 187.1 314.2 187.7 C317.8 188.3 320.2 185.6 323.2 184.1 C326.2 182.6 328.5 180.2 332.1 178.7 C335.7 177.2 340.8 175.4 344.7 175.1 C348.6 174.8 353.3 170.6 355.4 176.9 C357.5 183.2 356.9 206.8 357.2 212.8"/>
<path d="M314.2 207.4 C319.3 207.7 337.5 208.3 344.7 209.2 C351.9 210.1 355.1 212.2 357.2 212.8"/>
<path d="M316 187.7 L316 207.4"/>
<path d="M326.7 184.5 L326.7 208"/>
<path d="M337.5 178 L337.5 208.8"/>
<path d="M312.4 150.0 C312.7 154.2 311.2 171.5 314.2 175.1 C317.2 178.7 325.8 172.1 330.3 171.5 C334.8 170.9 338.7 175.1 341.1 171.5 C343.5 167.9 344.1 153.6 344.7 150.0"/>
<!-- 15_hs_right.txt -->
<path d="M492.0 138.0 C494.7 136.3 501.3 131.7 508.0 128.0 C514.7 124.3 524.7 119.7 532.0 116.0 C539.3 112.3 545.7 108.7 552.0 106.0 C558.3 103.3 565.3 100.7 570.0 100.0 C574.7 99.3 575.7 100.0 580.0 102.0 C584.3 104.0 592.7 110.0 596.0 112.0 C599.3 114.0 599.3 113.7 600.0 114.0"/>
<path d="M492.0 138.0 C494.7 139.7 503.3 144.7 508.0 148.0 C512.7 151.3 518.0 156.3 520.0 158.0"/>
<path d="M520.0 158.0 C525.3 155.7 540.3 149.7 552.0 144.0 C563.7 138.3 582.0 128.0 590.0 124.0 C598.0 120.0 598.3 120.7 600.0 120.0"/>
<path d="M560.0 100.0 C562.0 100.0 567.7 99.0 572.0 100.0 C576.3 101.0 581.7 103.7 586.0 106.0 C590.3 108.3 593.7 113.3 598.0 114.0 C602.3 114.7 609.7 110.7 612.0 110.0"/>
<ellipse cx="572.5" cy="140.5" rx="18.5" ry="11.5"/>
<ellipse cx="573.5" cy="138.5" rx="10.5" ry="6.5"/>
<ellipse cx="573.5" cy="138.8" rx="8" ry="4.5" style="stroke-width:2"/>
<path d="M554.0 141.0 C554.2 142.0 554.0 145.5 555.0 147.0 C556.0 148.5 557.2 149.1 560.0 150.0 C562.8 150.9 567.8 152.5 572.0 152.5 C576.2 152.5 581.8 151.2 585.0 150.0 C588.2 148.8 590.0 146.7 591.0 145.0 C592.0 143.3 591.0 140.8 591.0 140.0"/>
<ellipse cx="529.2" cy="169.9" rx="20.4" ry="10.2"/>
<ellipse cx="529.6" cy="170.4" rx="14.5" ry="7.1"/>
<path d="M508.8 170.4 L508.8 197.1"/>
<path d="M549.6 170.4 L549.6 197.1"/>
<path d="M508.8 197.1 C510.9 198.2 516.7 202.2 521.4 203.4 C526.1 204.6 532.4 205.2 537.1 204.2 C541.8 203.1 547.5 198.3 549.6 197.1"/>
<path d="M499.4 197.1 C500.4 198.2 502.0 201.2 505.7 203.4 C509.4 205.6 516.2 209.2 521.4 210.4 C526.6 211.6 531.9 211.4 537.1 210.4 C542.3 209.4 550.2 205.2 552.8 204.2"/>
<path d="M499.4 161 L499.4 234.8"/>
<path d="M502.6 237.9 L502.6 275.6"/>
<path d="M549.6 175.1 C551.4 174.6 556.2 173.6 560.6 172.0 C565.0 170.4 571.1 167.4 576.3 165.7 C581.5 164.0 587.5 162.7 592.0 161.8 C596.5 160.9 601.2 160.5 603.0 160.2"/>
<path d="M556.5 195.5 L556.5 290" style="stroke-width:1.7"/>
<path d="M557.5 201.8 C558.5 200.0 560.9 194.7 563.8 190.8 C566.7 186.9 570.9 182.0 574.8 178.3 C578.7 174.6 582.6 171.8 587.3 168.8 C592.0 165.8 600.4 161.6 603.0 160.2"/>
<path d="M557.5 203.4 C559.9 201.6 566.6 196.1 571.6 192.4 C576.6 188.7 582.1 184.6 587.3 181.4 C592.5 178.2 597.8 175.3 603.0 173.5 C608.2 171.7 614.0 170.4 618.7 170.4 C623.4 170.4 627.4 171.4 631.3 173.5 C635.2 175.6 639.3 179.2 642.3 183.0 C645.2 186.8 647.9 193.8 649.0 196.0"/>
<path d="M607.7 150.0 C608.0 151.6 607.2 156.3 609.3 159.4 C611.4 162.5 618.5 167.2 620.3 168.8"/>
<path d="M588.9 209.6 C588.9 215.9 587.6 240.5 588.9 247.3 C590.2 254.1 595.4 250.0 596.7 250.5"/>
<path d="M599.9 270.9 L615.6 264.6"/>
<circle cx="648" cy="245.5" r="3.8"/>
<path d="M640.7 267.7 C641.2 266.4 641.7 262.2 643.8 259.9 C645.9 257.5 650.6 253.6 653.2 253.6 C655.8 253.6 659.0 256.8 659.5 259.9 C660.0 263.0 656.9 270.3 656.4 272.4"/>
<ellipse cx="631.5" cy="112" rx="17.5" ry="9"/>
<ellipse cx="631" cy="112" rx="11" ry="6"/>
<path d="M614 112 L613.5 126"/>
<path d="M611 126 L611 160"/>
<path d="M649 112 L649 196"/>
<path d="M613.0 136.0 C615.8 136.7 624.0 139.7 630.0 140.0 C636.0 140.3 645.8 138.3 649.0 138.0"/>
<path d="M611.0 160.0 L620.0 168.0"/>
<path d="M649.0 196.0 C649.5 197.3 651.2 200.0 652.0 204.0 C652.8 208.0 653.7 214.0 654.0 220.0 C654.3 226.0 654.3 234.3 654.0 240.0 C653.7 245.7 652.3 251.7 652.0 254.0"/>
<path d="M560.0 170.0 C564.3 167.3 578.0 159.0 586.0 154.0 C594.0 149.0 604.3 142.3 608.0 140.0"/>
<path d="M603.0 114.0 C604.5 114.7 610.2 116.0 612.0 118.0 C613.8 120.0 613.7 124.7 614.0 126.0"/>
<path d="M560.2 227.5 C562.4 231.3 569.1 244.2 573.6 250.3 C578.1 256.4 582.6 259.3 587.1 263.8 C591.6 268.3 595.8 272.7 600.5 277.2 C605.2 281.7 610.6 285.8 615.3 290.7 C620.0 295.6 626.5 304.1 628.8 306.8"/>
<path d="M566.9 216.7 C567.6 220.1 568.7 230.6 570.9 236.9 C573.1 243.2 576.5 249.0 580.3 254.4 C584.1 259.8 589.3 264.5 593.8 269.2 C598.3 273.9 602.7 278.1 607.2 282.6 C611.7 287.1 616.7 291.8 620.7 296.1 C624.7 300.4 629.6 306.2 631.4 308.2"/>
<path d="M560.2 227.5 L566.9 216.7 L568.2 215.4"/>
<path d="M596.7 192.4 C596.7 194.2 596.2 200.0 596.7 203.4 C597.2 206.8 598.2 207.9 600.0 213.0 C601.8 218.1 603.8 228.4 607.2 234.2 C610.7 240.0 615.8 242.8 620.7 247.7 C625.6 252.6 631.9 258.9 636.8 263.8 C641.7 268.7 645.4 272.3 650.3 277.2 C655.2 282.1 663.7 290.7 666.4 293.4"/>
<path d="M592.0 197.1 C591.8 198.4 590.0 201.9 590.5 204.9 C591.0 207.9 593.1 211.5 595.0 215.0 C596.9 218.5 599.0 222.2 601.9 226.0 C604.8 229.8 608.6 233.8 612.6 238.0 C616.6 242.2 621.6 247.0 626.1 251.5 C630.6 256.0 635.0 260.7 639.5 265.0 C644.0 269.3 648.9 273.3 653.0 277.5 C657.1 281.7 662.2 287.9 664.0 290.0"/>
<path d="M579.0 251.7 C580.4 251.2 584.6 249.4 587.1 249.0 C589.6 248.6 590.0 247.4 593.8 249.0 C597.6 250.6 605.9 255.7 609.9 258.4 C613.9 261.1 616.4 262.0 618.0 265.1 C619.6 268.2 611.2 270.7 619.3 277.2 C627.4 283.7 658.5 299.6 666.4 304.1"/>
<path d="M597.8 271.9 L615.3 265.1"/>
<path d="M603.2 278.6 L615.3 275.9"/>
<!-- 16_hs_botleft.txt -->
<path d="M86.1 240.0 C87.8 240.8 92.6 243.3 96.0 245.0 C99.4 246.7 104.6 246.6 106.3 250.1 C108.0 253.6 103.9 262.2 106.3 266.2 C108.7 270.2 116.5 270.2 120.5 274.3 C124.5 278.4 127.2 286.1 130.5 290.5 C133.8 294.9 137.9 297.1 140.6 300.5 C143.3 303.9 145.5 305.9 146.7 310.6 C147.9 315.3 147.5 325.8 147.7 328.8"/>
<path d="M112.4 260.2 C114.1 260.5 119.8 259.5 122.5 262.2 C125.2 264.9 125.8 271.6 128.5 276.3 C131.2 281.0 135.6 286.5 138.6 290.5 C141.6 294.5 145.3 298.8 146.7 300.5"/>
<path d="M147.7 328.8 C149.5 329.5 154.9 331.5 158.8 332.8 C162.7 334.1 167.5 335.2 170.9 336.9 C174.3 338.6 174.3 340.5 179.0 342.9 C183.7 345.2 191.8 348.3 199.2 351.0 C206.6 353.7 215.7 356.4 223.4 359.1 C231.1 361.8 240.2 364.8 245.6 367.1 C251.0 369.5 251.6 371.5 255.7 373.2 C259.8 374.9 267.6 376.5 270.0 377.2"/>
<path d="M158.8 324.8 C160.5 324.8 164.9 323.5 168.9 324.8 C172.9 326.1 177.6 330.5 183.0 332.8 C188.4 335.1 194.8 336.9 201.2 338.9 C207.6 340.9 214.0 342.6 221.4 345.0 C228.8 347.4 239.9 351.3 245.6 353.0 C251.3 354.7 254.0 354.7 255.7 355.0"/>
<path d="M191.1 320.7 C194.5 321.4 204.6 323.1 211.3 324.8 C218.0 326.5 224.1 328.8 231.5 330.8 C238.9 332.8 251.7 335.9 255.7 336.9"/>
<path d="M147.4 328.8 C150.3 329.6 157.7 330.8 164.7 333.7 C171.7 336.6 185.2 344.0 189.3 346.1"/>
<path d="M158.5 325.1 C160.6 325.1 166.7 324.5 170.8 325.1 C174.9 325.7 181.1 328.2 183.2 328.8"/>
<path d="M189.3 320.2 C191.4 320.8 197.2 322.7 201.7 323.9 C206.2 325.1 212.4 326.4 216.5 327.6 C220.6 328.8 222.2 330.1 226.3 331.3 C230.4 332.5 236.6 333.8 241.1 335.0 C245.6 336.2 251.4 338.1 253.5 338.7"/>
<path d="M188.1 335.0 C190.4 335.6 197.0 337.3 201.7 338.7 C206.4 340.1 214.0 342.8 216.5 343.6"/>
<path d="M254.7 328.8 L253.5 350.0"/>
<path d="M214 264.7 L223.9 265.9"/>
<path d="M231.3 273.3 C232.7 273.7 236.6 275.2 239.9 275.8 C243.2 276.4 248.7 275.1 251.0 277.0 C253.3 278.9 253.1 285.2 253.5 286.9"/>
<!-- 17_hs_botmid.txt -->
<path d="M232.7 240 L232.7 272.7 L230 283.6"/>
<path d="M239.5 240.0 C239.5 253.6 236.5 306.8 239.5 321.8 C242.5 336.8 254.3 328.6 257.3 330.0"/>
<path d="M246.4 240.0 C247.1 244.6 248.7 257.1 250.5 267.3 C252.3 277.5 255.3 288.9 257.3 301.4 C259.3 313.9 261.8 335.5 262.7 342.3"/>
<path d="M251.8 240.0 C252.7 244.6 255.2 257.1 257.3 267.3 C259.4 277.5 262.1 288.9 264.1 301.4 C266.1 313.9 268.6 335.5 269.5 342.3"/>
<path d="M230.0 274.1 C231.6 274.3 235.9 274.6 239.5 275.5 C243.1 276.4 248.2 278.6 251.8 279.5 C255.5 280.4 259.8 280.7 261.4 280.9"/>
<path d="M282.0 300.0 C283.0 298.3 286.3 293.0 288.0 290.0 C289.7 287.0 290.8 283.8 292.0 282.0 C293.2 280.2 293.1 278.6 295.5 279.5 C297.9 280.4 303.7 285.4 306.4 287.7 C309.1 290.0 310.9 292.3 311.8 293.2"/>
<path d="M284.5 316.4 C285.0 315.0 285.5 310.7 287.3 308.2 C289.1 305.7 292.3 303.4 295.5 301.4 C298.7 299.3 303.2 297.3 306.4 295.9 C309.6 294.5 311.3 293.0 314.5 293.2 C317.7 293.4 320.7 294.6 325.5 297.3 C330.3 300.0 338.7 306.6 343.2 309.5 C347.7 312.4 349.8 312.5 352.7 315.0 C355.6 317.5 358.6 321.1 360.9 324.5 C363.2 327.9 365.0 329.6 366.4 335.5 C367.8 341.4 368.7 355.9 369.1 360.0"/>
<path d="M281.8 317.7 L281.8 360"/>
<path d="M290.0 321.8 C290.7 321.4 291.4 320.5 294.1 319.1 C296.8 317.7 303.0 314.7 306.4 313.6 C309.8 312.5 310.9 311.4 314.5 312.3 C318.1 313.2 323.6 318.9 328.2 319.1 C332.8 319.3 338.6 314.5 341.8 313.6 C345.0 312.7 346.4 313.6 347.3 313.6"/>
<path d="M290 321.8 L288.6 360"/>
<path d="M314.5 293.2 L314.5 312.3"/>
<path d="M325.5 324.5 C325.0 326.3 323.4 329.6 322.7 335.5 C322.0 341.4 321.6 355.9 321.4 360.0"/>
<path d="M347.3 316.4 L348.6 332.7"/>
<path d="M325.5 340.9 C327.8 339.8 335.0 335.5 339.1 334.1 C343.2 332.7 347.3 332.5 350.0 332.7 C352.7 332.9 354.6 335.0 355.5 335.5"/>
<path d="M257.3 261.8 C258.2 261.4 259.3 258.2 262.7 259.1 C266.1 260.0 275.0 264.1 277.7 267.3 C280.4 270.5 278.6 274.3 279.1 278.2 C279.6 282.1 277.8 287.1 280.5 290.5 C283.2 293.9 293.0 297.2 295.5 298.6"/>
<path d="M275.0 267.3 C277.1 266.4 284.1 262.7 287.3 261.8 C290.5 260.9 292.7 260.9 294.1 261.8 C295.5 262.7 294.1 264.8 295.5 267.3 C296.9 269.8 299.6 272.7 302.3 276.8 C305.0 280.9 310.2 289.3 311.8 291.8"/>
<path d="M295.5 257.7 C297.3 257.0 302.5 255.4 306.4 253.6 C310.2 251.8 315.4 247.0 318.6 246.8 C321.8 246.6 324.4 250.2 325.5 252.3 C326.6 254.4 325.5 258.0 325.5 259.1"/>
<path d="M266.8 308.2 L281.8 317.7"/>
<path d="M230.0 331.4 C234.1 332.1 248.6 333.9 254.5 335.5 C260.4 337.1 263.7 340.0 265.5 340.9"/>
<path d="M291.4 327.3 C293.9 328.7 302.1 333.7 306.4 335.5 C310.7 337.3 315.5 337.8 317.3 338.2"/>
<path d="M330.0 298.2 C332.3 299.6 339.5 303.7 343.6 306.4 C347.7 309.1 351.3 311.8 354.5 314.5 C357.7 317.2 360.6 320.0 362.7 322.7 C364.8 325.4 365.4 326.1 366.8 330.9 C368.2 335.7 369.3 345.0 370.9 351.4 C372.5 357.8 375.0 364.8 376.4 369.1 C377.8 373.4 378.7 375.9 379.1 377.3" style="stroke-width:1.8"/>
<path d="M340.9 290.0 C343.6 291.6 352.3 296.6 357.3 299.5 C362.3 302.4 367.0 304.5 370.9 307.7 C374.8 310.9 378.2 315.2 380.5 318.6 C382.8 322.0 383.4 324.3 384.5 328.2 C385.6 332.1 385.7 336.8 387.3 341.8 C388.9 346.8 391.2 352.3 394.1 358.2 C397.1 364.1 402.1 372.3 405.0 377.3 C407.9 382.3 410.7 386.4 411.8 388.2" style="stroke-width:1.8"/>
<path d="M369.5 290.0 C372.0 291.4 380.6 295.2 384.5 298.2 C388.4 301.1 390.6 304.5 392.7 307.7 C394.8 310.9 395.9 313.4 396.8 317.3 C397.7 321.2 396.6 326.4 398.2 330.9 C399.8 335.4 403.2 339.7 406.4 344.5 C409.6 349.3 413.7 354.3 417.3 359.5 C420.9 364.7 426.4 373.2 428.2 375.9" style="stroke-width:1.8"/>
<path d="M343.0 290.0 C345.7 291.7 354.0 296.8 359.0 300.0 C364.0 303.2 369.2 305.7 373.0 309.0 C376.8 312.3 379.8 316.5 382.0 320.0 C384.2 323.5 385.2 326.2 386.5 330.0 C387.8 333.8 387.9 338.2 389.5 343.0 C391.1 347.8 393.1 353.5 396.0 359.0 C398.9 364.5 404.2 371.5 407.0 376.0 C409.8 380.5 412.0 384.3 413.0 386.0"/>
<path d="M372.0 290.0 C374.5 291.5 383.2 295.9 387.0 299.0 C390.8 302.1 392.9 305.3 395.0 308.5 C397.1 311.7 398.5 314.2 399.5 318.0 C400.5 321.8 399.4 326.6 401.0 331.0 C402.6 335.4 405.8 339.8 409.0 344.5 C412.2 349.2 416.4 354.6 420.0 359.5 C423.6 364.4 428.8 371.6 430.5 374.0"/>
<path d="M395.5 290.0 C396.9 291.4 401.8 294.8 403.6 298.2 C405.4 301.6 404.6 308.7 406.4 310.5 C408.2 312.3 411.3 310.0 414.5 309.1 C417.7 308.2 422.8 305.2 425.5 305.0 C428.2 304.8 429.5 307.9 430.9 307.7 C432.2 307.5 433.2 304.3 433.6 303.6"/>
<path d="M420 290 L420 303"/>
<path d="M435 290 L435 303"/>
<!-- 18_hs_bot.txt -->
<ellipse cx="346" cy="352" rx="13" ry="6"/>
<ellipse cx="345" cy="351" rx="6" ry="3.5"/>
<path d="M330.0 341.8 C332.3 340.4 339.7 334.5 343.6 333.6 C347.5 332.7 350.7 333.9 353.2 336.4 C355.7 338.9 357.7 340.0 358.6 348.6 C359.5 357.2 358.6 381.6 358.6 388.2"/>
<path d="M330 350 L330 396"/>
<path d="M316 330 L318 390 L324 414 L330 426"/>
<path d="M300.0 380.0 C303.3 382.0 314.7 389.3 320.0 392.0 C325.3 394.7 330.0 395.3 332.0 396.0"/>
<path d="M300.0 390.0 C302.0 391.0 307.7 391.0 312.0 396.0 C316.3 401.0 323.7 416.0 326.0 420.0"/>
<path d="M332.0 374.0 C336.7 376.3 350.7 383.3 360.0 388.0 C369.3 392.7 381.3 398.3 388.0 402.0 C394.7 405.7 398.0 408.7 400.0 410.0"/>
<path d="M327.5 394.9 C328.9 396.0 331.8 402.1 336.2 401.5 C340.6 400.9 350.7 393.2 353.6 391.6"/>
<path d="M326.0 420.0 C326.7 421.0 327.0 423.7 330.0 426.0 C333.0 428.3 339.3 431.2 344.0 434.0 C348.7 436.8 355.0 441.3 358.0 443.0 C361.0 444.7 361.3 443.8 362.0 444.0"/>
<path d="M358.0 442.9 C358.2 441.6 358.4 437.9 359.1 435.0 C359.8 432.1 360.9 427.8 362.4 425.5 C363.8 423.2 365.6 422.4 367.8 421.1 C370.0 419.8 373.3 417.8 375.5 417.8 C377.7 417.8 380.0 419.1 380.9 421.1 C381.8 423.1 381.8 427.4 380.9 429.8 C380.0 432.2 379.1 433.1 375.5 435.3 C371.9 437.5 361.8 441.6 359.1 442.9"/>
<circle cx="370.6" cy="429.3" r="4.6"/>
<path d="M382.0 422.0 C385.0 420.7 395.0 416.0 400.0 414.0 C405.0 412.0 410.0 410.7 412.0 410.0"/>
<path d="M371.1 416.7 C372.2 414.9 375.1 408.3 377.6 405.8 C380.2 403.3 383.1 400.8 386.4 401.5 C389.7 402.2 395.5 408.8 397.3 410.2"/>
<path d="M380.9 426.0 C384.5 424.4 397.8 418.2 402.7 416.7 C407.6 415.1 409.1 416.7 410.4 416.7"/>
<path d="M337.3 409.1 L359.1 423.3"/>
<path d="M327.5 421.0 C327.8 419.2 327.9 412.8 329.5 410.0 C331.1 407.2 336.0 405.0 337.3 404.0"/>
<path d="M402.7 416.7 C404.2 412.7 408.2 398.5 411.5 392.7 C414.8 386.9 420.6 383.6 422.4 381.8"/>
<path d="M408.2 416.7 C409.3 414.2 412.5 405.1 414.7 401.5 C416.9 397.9 418.8 397.3 421.3 394.9 C423.9 392.5 428.6 388.6 430.0 387.3"/>
<path d="M364.5 381.8 C366.3 382.2 371.9 383.8 375.5 384.0 C379.1 384.2 383.1 381.8 386.4 382.9 C389.7 384.0 393.3 388.1 395.1 390.5 C396.9 392.9 397.7 395.3 397.3 397.1 C396.9 398.9 393.6 400.8 392.9 401.5"/>
<path d="M412.0 390.0 C414.0 388.3 419.3 382.5 424.0 380.0 C428.7 377.5 435.3 375.0 440.0 375.0 C444.7 375.0 449.3 377.5 452.0 380.0 C454.7 382.5 455.3 388.3 456.0 390.0"/>
<path d="M430.0 388.0 C431.7 387.5 437.3 384.7 440.0 385.0 C442.7 385.3 444.7 388.2 446.0 390.0 C447.3 391.8 447.7 395.0 448.0 396.0"/>
<path d="M402.0 416.0 C402.3 414.7 402.3 411.3 404.0 408.0 C405.7 404.7 408.7 399.7 412.0 396.0 C415.3 392.3 422.0 387.7 424.0 386.0"/>
<path d="M403.6 410.0 C405.0 406.8 408.2 396.3 411.8 390.9 C415.4 385.4 420.9 380.0 425.5 377.3 C430.1 374.6 435.0 374.5 439.1 374.5 C443.2 374.5 447.3 375.5 450.0 377.3 C452.7 379.1 454.6 383.2 455.5 385.5 C456.4 387.8 455.5 390.0 455.5 390.9"/>
<path d="M411.8 410.0 C412.9 407.7 415.9 400.0 418.6 396.4 C421.3 392.8 425.2 390.0 428.2 388.2 C431.2 386.4 433.9 385.5 436.4 385.5 C438.9 385.5 441.4 386.4 443.2 388.2 C445.0 390.0 446.6 395.0 447.3 396.4"/>
<path d="M455.5 390.9 C457.9 390.4 465.9 388.9 470.0 388.0 C474.1 387.1 478.3 385.9 480.0 385.5"/>
<path d="M420 423 L486 463"/>
<path d="M366.0 330.0 C366.7 333.3 367.7 342.3 370.0 350.0 C372.3 357.7 378.3 371.7 380.0 376.0"/>
<path d="M384.0 330.0 C384.3 332.7 384.0 340.0 386.0 346.0 C388.0 352.0 391.7 359.0 396.0 366.0 C400.3 373.0 409.3 384.3 412.0 388.0"/>
<path d="M452.7 333.6 C449.5 337.7 437.7 353.0 433.6 358.2 C429.5 363.4 429.1 363.9 428.2 365.0"/>
<path d="M450.0 352.7 L429.5 362.3"/>
<path d="M455.5 341.8 L480.0 354.1"/>
<path d="M458.2 355.5 L480.0 358.2"/>
<path d="M455 290 L455 390"/>
<path d="M455.0 290.0 C455.8 288.8 457.5 285.0 460.0 283.0 C462.5 281.0 466.7 278.3 470.0 278.0 C473.3 277.7 477.0 279.3 480.0 281.0 C483.0 282.7 484.0 285.8 488.0 288.0 C492.0 290.2 500.8 291.7 504.0 294.0 C507.2 296.3 506.5 300.7 507.0 302.0"/>
<path d="M507 302 L507 354"/>
<path d="M480 290 L480 388"/>
<path d="M480.0 281.0 C482.7 280.0 491.7 275.5 496.0 275.0 C500.3 274.5 502.0 276.7 506.0 278.0 C510.0 279.3 520.3 281.0 520.0 283.0 C519.7 285.0 506.7 288.8 504.0 290.0"/>
<path d="M476.0 278.0 C478.3 272.7 486.0 252.5 490.0 246.0 C494.0 239.5 497.7 240.0 500.0 239.0 C502.3 238.0 503.5 233.8 504.0 240.0 C504.5 246.2 503.2 270.0 503.0 276.0"/>
<path d="M488.0 320.0 C487.9 322.5 487.5 330.0 487.5 335.0 C487.5 340.0 487.2 346.8 488.0 350.0 C488.8 353.2 490.3 353.4 492.0 354.0 C493.7 354.6 496.4 354.2 498.0 353.5 C499.6 352.8 500.9 353.1 501.5 350.0 C502.1 346.9 501.9 339.8 501.8 335.0 C501.7 330.2 502.1 323.9 501.0 321.0 C499.9 318.1 497.2 317.7 495.0 317.5 C492.8 317.3 489.2 319.6 488.0 320.0"/>
<ellipse cx="495" cy="307.5" rx="2" ry="2.8"/>
<path d="M487.0 370.0 C488.2 368.7 489.8 364.8 494.0 362.0 C498.2 359.2 506.7 353.7 512.0 353.0 C517.3 352.3 522.5 355.5 526.0 358.0 C529.5 360.5 531.7 365.3 533.0 368.0 C534.3 370.7 533.8 373.0 534.0 374.0"/>
<path d="M488.0 386.0 C489.0 386.3 490.3 388.3 494.0 388.0 C497.7 387.7 503.3 386.3 510.0 384.0 C516.7 381.7 530.0 375.7 534.0 374.0"/>
<path d="M486 370 L488 386"/>
<path d="M500.0 388.0 C506.0 385.7 526.0 376.8 536.0 374.0 C546.0 371.2 551.0 371.0 560.0 371.0 C569.0 371.0 580.0 371.8 590.0 374.0 C600.0 376.2 611.7 380.3 620.0 384.0 C628.3 387.7 636.7 394.0 640.0 396.0"/>
<path d="M534.0 366.0 C538.3 365.5 550.7 363.0 560.0 363.0 C569.3 363.0 580.7 364.2 590.0 366.0 C599.3 367.8 611.7 372.7 616.0 374.0"/>
<path d="M560.0 272.0 C563.7 274.3 578.0 281.7 582.0 286.0 C586.0 290.3 577.7 293.0 584.0 298.0 C590.3 303.0 614.8 303.3 620.0 316.0 C625.2 328.7 615.8 364.3 615.0 374.0"/>
<path d="M560.0 274.0 C558.3 276.7 552.3 279.3 550.0 290.0 C547.7 300.7 546.7 330.0 546.0 338.0"/>
<path d="M582.0 288.0 C581.0 295.7 579.3 325.0 576.0 334.0 C572.7 343.0 564.7 338.7 562.0 342.0 C559.3 345.3 560.3 352.0 560.0 354.0"/>
<path d="M576.0 336.0 L615.0 358.0"/>
<path d="M450.0 230.0 C448.7 236.7 444.7 257.7 442.0 270.0 C439.3 282.3 435.3 298.3 434.0 304.0"/>
<path d="M474.0 230.0 C471.7 233.3 464.3 240.0 460.0 250.0 C455.7 260.0 450.0 283.3 448.0 290.0"/>
<path d="M420.0 306.0 L454.0 292.0"/>
<!-- 19_hs_bearing.txt -->
<path d="M684.4 420.3 C684.4 416.3 683.9 403.3 684.4 396.1 C684.9 388.9 685.5 382.7 687.1 377.3 C688.7 371.9 690.9 368.3 693.8 363.8 C696.7 359.3 700.6 354.2 704.6 350.4 C708.6 346.6 713.5 343.1 718.0 341.0 C722.5 338.9 727.5 337.8 731.5 337.6 C735.5 337.4 739.4 338.2 742.3 339.6 C745.2 341.1 747.4 343.6 749.0 346.3 C750.6 349.0 751.2 348.4 751.7 355.8 C752.2 363.2 752.4 384.6 751.7 390.7 C751.0 396.8 748.4 391.9 747.7 392.1"/>
<path d="M747.7 392.1 L684.4 420.3"/>
<path d="M693.8 393.4 C693.1 390.0 691.8 384.5 692.5 380.0 C693.2 375.5 695.2 371.0 697.9 366.5 C700.6 362.0 704.6 356.5 708.6 353.1 C712.6 349.7 717.8 347.7 722.1 346.3 C726.4 344.9 730.8 344.3 734.2 345.0 C737.6 345.7 740.5 347.7 742.3 350.4 C744.1 353.1 745.0 357.1 745.0 361.1 C745.0 365.1 744.1 370.1 742.3 374.6 C740.5 379.1 737.8 383.8 734.2 388.1 C730.6 392.4 725.2 397.7 720.7 400.2 C716.2 402.7 711.3 402.9 707.3 402.9 C703.3 402.9 698.8 401.8 696.5 400.2 C694.2 398.6 694.5 396.8 693.8 393.4Z"/>
<path d="M695.2 390.7 C695.4 388.5 695.2 381.6 696.5 377.3 C697.8 373.1 700.1 369.2 703.2 365.2 C706.4 361.2 711.6 356.0 715.4 353.1 C719.2 350.2 724.1 347.5 726.1 347.7 C728.1 347.9 727.5 351.3 727.5 354.4 C727.5 357.5 727.7 362.5 726.1 366.5 C724.5 370.5 721.1 375.0 718.0 378.6 C714.9 382.2 710.9 386.1 707.3 388.1 C703.7 390.1 698.3 390.3 696.5 390.7"/>
<path d="M729.0 345.5 C729.6 346.4 732.1 348.2 732.5 351.0 C732.9 353.8 732.6 358.4 731.5 362.0 C730.4 365.6 728.4 369.0 726.0 372.5 C723.6 376.0 718.5 381.2 717.0 383.0"/>
<path d="M662.9 401.5 C663.6 396.4 664.9 379.1 666.9 370.6 C668.9 362.1 671.9 356.0 675.0 350.4 C678.1 344.8 681.5 340.5 685.8 336.9 C690.1 333.3 695.7 330.4 700.6 328.8 C705.5 327.2 710.5 327.1 715.4 327.5 C720.3 327.9 727.7 330.8 730.2 331.5"/>
<path d="M669.6 324.8 C671.9 323.9 678.6 320.1 683.1 319.4 C687.6 318.7 692.5 319.4 696.5 320.8 C700.5 322.2 705.5 326.4 707.3 327.5"/>
<path d="M657.5 320.8 C657.3 323.5 657.2 332.2 656.1 336.9 C655.0 341.6 652.1 344.5 650.8 349.0 C649.5 353.5 648.5 358.6 648.1 363.8 C647.7 369.0 648.1 377.3 648.1 380.0"/>
<path d="M640.0 401.5 C643.4 402.9 653.5 406.9 660.2 409.6 C666.9 412.3 676.4 415.9 680.4 417.7 C684.4 419.5 683.7 419.9 684.4 420.3"/>
<path d="M662.9 401.5 C662.8 402.9 662.0 408.2 662.0 410.0 C662.0 411.8 662.8 411.7 663.0 412.0"/>
<path d="M590.0 372.2 C594.7 374.1 609.7 380.1 618.0 383.4 C626.3 386.7 636.3 390.6 640.0 392.0"/>
<ellipse cx="634.8" cy="318.9" rx="14" ry="7"/>
<ellipse cx="635.5" cy="318.9" rx="5.5" ry="3.5"/>
<path d="M620.8 319 L619.4 375"/>
<path d="M648.8 319 L648 363.8"/>
<ellipse cx="689.5" cy="293.7" rx="14" ry="7"/>
<ellipse cx="689.5" cy="294.3" rx="6" ry="3.5"/>
<path d="M675.5 294 L675.5 313.3"/>
<path d="M703.5 294 L703.5 324.5"/>
<path d="M590.0 296.5 L620.8 313.3"/>
<path d="M590.0 335.7 C594.2 337.6 611.0 340.4 615.2 347.0 C619.4 353.6 615.2 370.3 615.2 375.0"/>
<path d="M590.0 198.4 C591.4 200.7 594.7 206.8 598.4 212.4 C602.1 218.0 606.8 225.0 612.4 232.0 C618.0 239.0 626.4 247.5 632.0 254.5 C637.6 261.5 640.5 268.5 646.1 274.1 C651.7 279.7 662.4 285.8 665.7 288.1"/>
<path d="M646.1 190.0 C647.0 194.7 650.3 209.1 651.7 218.0 C653.1 226.9 653.6 235.8 654.5 243.3 C655.4 250.8 658.2 258.2 657.3 262.9 C656.4 267.6 651.7 270.8 648.9 271.3 C646.1 271.8 641.8 266.6 640.4 265.7"/>
</g>
</svg>
</body></html>
